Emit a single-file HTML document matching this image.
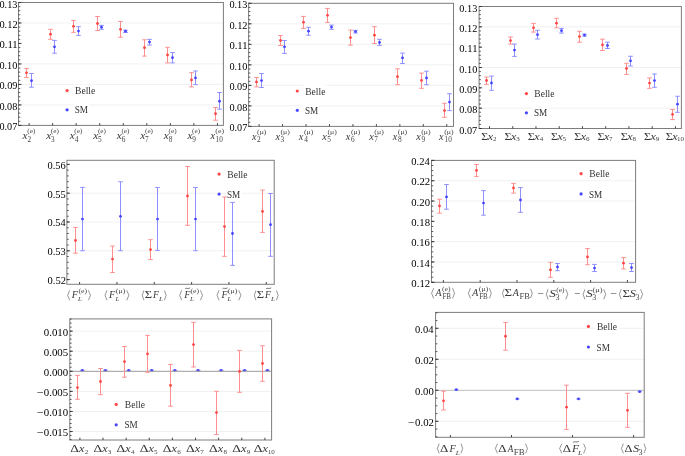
<!DOCTYPE html>
<html><head><meta charset="utf-8"><style>
html,body{margin:0;padding:0;background:#fff;}
body{width:685px;height:456px;overflow:hidden;font-family:"Liberation Serif", serif;}
svg{display:block;will-change:transform;}
</style></head><body>
<svg width="685" height="456" viewBox="0 0 685 456" font-family="'Liberation Serif', serif">
<rect width="685" height="456" fill="#fff"/>
<line x1="18.5" y1="104.92" x2="223.4" y2="104.92" stroke="#f1f1f1" stroke-width="1"/>
<line x1="18.5" y1="84.43" x2="223.4" y2="84.43" stroke="#f1f1f1" stroke-width="1"/>
<line x1="18.5" y1="63.95" x2="223.4" y2="63.95" stroke="#f1f1f1" stroke-width="1"/>
<line x1="18.5" y1="22.98" x2="223.4" y2="22.98" stroke="#f1f1f1" stroke-width="1"/>
<rect x="73.3" y="84.6" width="23" height="10" fill="#fff"/>
<rect x="73.3" y="103.8" width="16" height="10" fill="#fff"/>
<circle cx="67.1" cy="90.6" r="1.6" fill="#ff4545"/>
<circle cx="67.1" cy="109.8" r="1.6" fill="#4545ff"/>
<text x="75.02" y="94.2" font-size="9.5" textLength="20.21" lengthAdjust="spacingAndGlyphs" fill="#333">Belle</text>
<text x="74.69" y="113.4" font-size="9.5" textLength="13.28" lengthAdjust="spacingAndGlyphs" fill="#333">SM</text>
<line x1="26.5" y1="68.4" x2="26.5" y2="77.5" stroke="#ff8f8f" stroke-width="1.0"/>
<line x1="24.2" y1="68.4" x2="28.8" y2="68.4" stroke="#ff8f8f" stroke-width="1.0"/>
<line x1="24.2" y1="77.5" x2="28.8" y2="77.5" stroke="#ff8f8f" stroke-width="1.0"/>
<circle cx="26.5" cy="72.8" r="1.4" fill="#ff4545"/>
<line x1="31.5" y1="73.5" x2="31.5" y2="87.2" stroke="#8f8fff" stroke-width="1.0"/>
<line x1="29.2" y1="73.5" x2="33.8" y2="73.5" stroke="#8f8fff" stroke-width="1.0"/>
<line x1="29.2" y1="87.2" x2="33.8" y2="87.2" stroke="#8f8fff" stroke-width="1.0"/>
<circle cx="31.5" cy="80.7" r="1.4" fill="#4545ff"/>
<line x1="50.5" y1="29.3" x2="50.5" y2="39.3" stroke="#ff8f8f" stroke-width="1.0"/>
<line x1="48.2" y1="29.3" x2="52.8" y2="29.3" stroke="#ff8f8f" stroke-width="1.0"/>
<line x1="48.2" y1="39.3" x2="52.8" y2="39.3" stroke="#ff8f8f" stroke-width="1.0"/>
<circle cx="50.5" cy="34.2" r="1.4" fill="#ff4545"/>
<line x1="54.5" y1="40.4" x2="54.5" y2="53.2" stroke="#8f8fff" stroke-width="1.0"/>
<line x1="52.2" y1="40.4" x2="56.8" y2="40.4" stroke="#8f8fff" stroke-width="1.0"/>
<line x1="52.2" y1="53.2" x2="56.8" y2="53.2" stroke="#8f8fff" stroke-width="1.0"/>
<circle cx="54.5" cy="46.8" r="1.4" fill="#4545ff"/>
<line x1="73.5" y1="20.5" x2="73.5" y2="32.3" stroke="#ff8f8f" stroke-width="1.0"/>
<line x1="71.2" y1="20.5" x2="75.8" y2="20.5" stroke="#ff8f8f" stroke-width="1.0"/>
<line x1="71.2" y1="32.3" x2="75.8" y2="32.3" stroke="#ff8f8f" stroke-width="1.0"/>
<circle cx="73.5" cy="26.3" r="1.4" fill="#ff4545"/>
<line x1="78.5" y1="26.7" x2="78.5" y2="35.4" stroke="#8f8fff" stroke-width="1.0"/>
<line x1="76.2" y1="26.7" x2="80.8" y2="26.7" stroke="#8f8fff" stroke-width="1.0"/>
<line x1="76.2" y1="35.4" x2="80.8" y2="35.4" stroke="#8f8fff" stroke-width="1.0"/>
<circle cx="78.5" cy="31.1" r="1.4" fill="#4545ff"/>
<line x1="97.5" y1="16.5" x2="97.5" y2="30.5" stroke="#ff8f8f" stroke-width="1.0"/>
<line x1="95.2" y1="16.5" x2="99.8" y2="16.5" stroke="#ff8f8f" stroke-width="1.0"/>
<line x1="95.2" y1="30.5" x2="99.8" y2="30.5" stroke="#ff8f8f" stroke-width="1.0"/>
<circle cx="97.5" cy="23.5" r="1.4" fill="#ff4545"/>
<line x1="101.5" y1="25.4" x2="101.5" y2="29.3" stroke="#8f8fff" stroke-width="1.0"/>
<line x1="99.2" y1="25.4" x2="103.8" y2="25.4" stroke="#8f8fff" stroke-width="1.0"/>
<line x1="99.2" y1="29.3" x2="103.8" y2="29.3" stroke="#8f8fff" stroke-width="1.0"/>
<circle cx="101.5" cy="27.2" r="1.4" fill="#4545ff"/>
<line x1="120.5" y1="21.4" x2="120.5" y2="37.2" stroke="#ff8f8f" stroke-width="1.0"/>
<line x1="118.2" y1="21.4" x2="122.8" y2="21.4" stroke="#ff8f8f" stroke-width="1.0"/>
<line x1="118.2" y1="37.2" x2="122.8" y2="37.2" stroke="#ff8f8f" stroke-width="1.0"/>
<circle cx="120.5" cy="29.3" r="1.4" fill="#ff4545"/>
<line x1="125.5" y1="30.2" x2="125.5" y2="32.5" stroke="#8f8fff" stroke-width="1.0"/>
<line x1="123.2" y1="30.2" x2="127.8" y2="30.2" stroke="#8f8fff" stroke-width="1.0"/>
<line x1="123.2" y1="32.5" x2="127.8" y2="32.5" stroke="#8f8fff" stroke-width="1.0"/>
<circle cx="125.5" cy="31.2" r="1.4" fill="#4545ff"/>
<line x1="144.5" y1="39.8" x2="144.5" y2="56.1" stroke="#ff8f8f" stroke-width="1.0"/>
<line x1="142.2" y1="39.8" x2="146.8" y2="39.8" stroke="#ff8f8f" stroke-width="1.0"/>
<line x1="142.2" y1="56.1" x2="146.8" y2="56.1" stroke="#ff8f8f" stroke-width="1.0"/>
<circle cx="144.5" cy="47.7" r="1.4" fill="#ff4545"/>
<line x1="149.5" y1="39.4" x2="149.5" y2="45" stroke="#8f8fff" stroke-width="1.0"/>
<line x1="147.2" y1="39.4" x2="151.8" y2="39.4" stroke="#8f8fff" stroke-width="1.0"/>
<line x1="147.2" y1="45" x2="151.8" y2="45" stroke="#8f8fff" stroke-width="1.0"/>
<circle cx="149.5" cy="42.1" r="1.4" fill="#4545ff"/>
<line x1="167.5" y1="47.3" x2="167.5" y2="62.9" stroke="#ff8f8f" stroke-width="1.0"/>
<line x1="165.2" y1="47.3" x2="169.8" y2="47.3" stroke="#ff8f8f" stroke-width="1.0"/>
<line x1="165.2" y1="62.9" x2="169.8" y2="62.9" stroke="#ff8f8f" stroke-width="1.0"/>
<circle cx="167.5" cy="55" r="1.4" fill="#ff4545"/>
<line x1="172.5" y1="52.5" x2="172.5" y2="62.9" stroke="#8f8fff" stroke-width="1.0"/>
<line x1="170.2" y1="52.5" x2="174.8" y2="52.5" stroke="#8f8fff" stroke-width="1.0"/>
<line x1="170.2" y1="62.9" x2="174.8" y2="62.9" stroke="#8f8fff" stroke-width="1.0"/>
<circle cx="172.5" cy="57.7" r="1.4" fill="#4545ff"/>
<line x1="191.5" y1="72.7" x2="191.5" y2="86.9" stroke="#ff8f8f" stroke-width="1.0"/>
<line x1="189.2" y1="72.7" x2="193.8" y2="72.7" stroke="#ff8f8f" stroke-width="1.0"/>
<line x1="189.2" y1="86.9" x2="193.8" y2="86.9" stroke="#ff8f8f" stroke-width="1.0"/>
<circle cx="191.5" cy="80" r="1.4" fill="#ff4545"/>
<line x1="195.5" y1="71" x2="195.5" y2="84.6" stroke="#8f8fff" stroke-width="1.0"/>
<line x1="193.2" y1="71" x2="197.8" y2="71" stroke="#8f8fff" stroke-width="1.0"/>
<line x1="193.2" y1="84.6" x2="197.8" y2="84.6" stroke="#8f8fff" stroke-width="1.0"/>
<circle cx="195.5" cy="77.9" r="1.4" fill="#4545ff"/>
<line x1="215.5" y1="107.5" x2="215.5" y2="120.2" stroke="#ff8f8f" stroke-width="1.0"/>
<line x1="213.2" y1="107.5" x2="217.8" y2="107.5" stroke="#ff8f8f" stroke-width="1.0"/>
<line x1="213.2" y1="120.2" x2="217.8" y2="120.2" stroke="#ff8f8f" stroke-width="1.0"/>
<circle cx="215.5" cy="113.75" r="1.4" fill="#ff4545"/>
<line x1="219.5" y1="92.5" x2="219.5" y2="109.2" stroke="#8f8fff" stroke-width="1.0"/>
<line x1="217.2" y1="92.5" x2="221.8" y2="92.5" stroke="#8f8fff" stroke-width="1.0"/>
<line x1="217.2" y1="109.2" x2="221.8" y2="109.2" stroke="#8f8fff" stroke-width="1.0"/>
<circle cx="219.5" cy="101.25" r="1.4" fill="#4545ff"/>
<rect x="18.5" y="2.5" width="204.9" height="122.9" fill="none" stroke="#7d7d7d" stroke-width="1"/>
<line x1="18.5" y1="125.4" x2="20.3" y2="125.4" stroke="#333" stroke-width="0.8"/>
<line x1="18.5" y1="121.3" x2="20.3" y2="121.3" stroke="#333" stroke-width="0.8"/>
<line x1="18.5" y1="117.21" x2="20.3" y2="117.21" stroke="#333" stroke-width="0.8"/>
<line x1="18.5" y1="113.11" x2="20.3" y2="113.11" stroke="#333" stroke-width="0.8"/>
<line x1="18.5" y1="109.01" x2="20.3" y2="109.01" stroke="#333" stroke-width="0.8"/>
<line x1="18.5" y1="104.92" x2="20.3" y2="104.92" stroke="#333" stroke-width="0.8"/>
<line x1="18.5" y1="100.82" x2="20.3" y2="100.82" stroke="#333" stroke-width="0.8"/>
<line x1="18.5" y1="96.72" x2="20.3" y2="96.72" stroke="#333" stroke-width="0.8"/>
<line x1="18.5" y1="92.63" x2="20.3" y2="92.63" stroke="#333" stroke-width="0.8"/>
<line x1="18.5" y1="88.53" x2="20.3" y2="88.53" stroke="#333" stroke-width="0.8"/>
<line x1="18.5" y1="84.43" x2="20.3" y2="84.43" stroke="#333" stroke-width="0.8"/>
<line x1="18.5" y1="80.34" x2="20.3" y2="80.34" stroke="#333" stroke-width="0.8"/>
<line x1="18.5" y1="76.24" x2="20.3" y2="76.24" stroke="#333" stroke-width="0.8"/>
<line x1="18.5" y1="72.14" x2="20.3" y2="72.14" stroke="#333" stroke-width="0.8"/>
<line x1="18.5" y1="68.05" x2="20.3" y2="68.05" stroke="#333" stroke-width="0.8"/>
<line x1="18.5" y1="63.95" x2="20.3" y2="63.95" stroke="#333" stroke-width="0.8"/>
<line x1="18.5" y1="59.85" x2="20.3" y2="59.85" stroke="#333" stroke-width="0.8"/>
<line x1="18.5" y1="55.76" x2="20.3" y2="55.76" stroke="#333" stroke-width="0.8"/>
<line x1="18.5" y1="51.66" x2="20.3" y2="51.66" stroke="#333" stroke-width="0.8"/>
<line x1="18.5" y1="47.56" x2="20.3" y2="47.56" stroke="#333" stroke-width="0.8"/>
<line x1="18.5" y1="43.47" x2="20.3" y2="43.47" stroke="#333" stroke-width="0.8"/>
<line x1="18.5" y1="39.37" x2="20.3" y2="39.37" stroke="#333" stroke-width="0.8"/>
<line x1="18.5" y1="35.27" x2="20.3" y2="35.27" stroke="#333" stroke-width="0.8"/>
<line x1="18.5" y1="31.18" x2="20.3" y2="31.18" stroke="#333" stroke-width="0.8"/>
<line x1="18.5" y1="27.08" x2="20.3" y2="27.08" stroke="#333" stroke-width="0.8"/>
<line x1="18.5" y1="22.98" x2="20.3" y2="22.98" stroke="#333" stroke-width="0.8"/>
<line x1="18.5" y1="18.89" x2="20.3" y2="18.89" stroke="#333" stroke-width="0.8"/>
<line x1="18.5" y1="14.79" x2="20.3" y2="14.79" stroke="#333" stroke-width="0.8"/>
<line x1="18.5" y1="10.69" x2="20.3" y2="10.69" stroke="#333" stroke-width="0.8"/>
<line x1="18.5" y1="6.6" x2="20.3" y2="6.6" stroke="#333" stroke-width="0.8"/>
<line x1="18.5" y1="2.5" x2="20.3" y2="2.5" stroke="#333" stroke-width="0.8"/>
<line x1="18.5" y1="125.4" x2="21.5" y2="125.4" stroke="#333" stroke-width="0.9"/>
<text x="-0.59" y="130" font-size="10.3" textLength="17.88" lengthAdjust="spacingAndGlyphs" fill="#000000">0.07</text>
<line x1="18.5" y1="104.92" x2="21.5" y2="104.92" stroke="#333" stroke-width="0.9"/>
<text x="-0.59" y="110" font-size="10.3" textLength="17.98" lengthAdjust="spacingAndGlyphs" fill="#000000">0.08</text>
<line x1="18.5" y1="84.43" x2="21.5" y2="84.43" stroke="#333" stroke-width="0.9"/>
<text x="-0.59" y="89" font-size="10.3" textLength="18.01" lengthAdjust="spacingAndGlyphs" fill="#000000">0.09</text>
<line x1="18.5" y1="63.95" x2="21.5" y2="63.95" stroke="#333" stroke-width="0.9"/>
<text x="-0.59" y="69" font-size="10.3" textLength="17.98" lengthAdjust="spacingAndGlyphs" fill="#000000">0.10</text>
<line x1="18.5" y1="43.47" x2="21.5" y2="43.47" stroke="#333" stroke-width="0.9"/>
<text x="-0.6" y="48" font-size="10.3" textLength="18.22" lengthAdjust="spacingAndGlyphs" fill="#000000">0.11</text>
<line x1="18.5" y1="22.98" x2="21.5" y2="22.98" stroke="#333" stroke-width="0.9"/>
<text x="-0.6" y="28" font-size="10.3" textLength="18.17" lengthAdjust="spacingAndGlyphs" fill="#000000">0.12</text>
<line x1="18.5" y1="2.5" x2="21.5" y2="2.5" stroke="#333" stroke-width="0.9"/>
<text x="-0.59" y="8" font-size="10.3" textLength="17.99" lengthAdjust="spacingAndGlyphs" fill="#000000">0.13</text>
<line x1="29.1" y1="125.4" x2="29.1" y2="123.1" stroke="#333" stroke-width="0.9"/>
<line x1="52.64" y1="125.4" x2="52.64" y2="123.1" stroke="#333" stroke-width="0.9"/>
<line x1="76.18" y1="125.4" x2="76.18" y2="123.1" stroke="#333" stroke-width="0.9"/>
<line x1="99.72" y1="125.4" x2="99.72" y2="123.1" stroke="#333" stroke-width="0.9"/>
<line x1="123.26" y1="125.4" x2="123.26" y2="123.1" stroke="#333" stroke-width="0.9"/>
<line x1="146.8" y1="125.4" x2="146.8" y2="123.1" stroke="#333" stroke-width="0.9"/>
<line x1="170.34" y1="125.4" x2="170.34" y2="123.1" stroke="#333" stroke-width="0.9"/>
<line x1="193.88" y1="125.4" x2="193.88" y2="123.1" stroke="#333" stroke-width="0.9"/>
<line x1="217.42" y1="125.4" x2="217.42" y2="123.1" stroke="#333" stroke-width="0.9"/>
<text x="22.64" y="138.7" font-size="11" font-style="italic" textLength="5.04" lengthAdjust="spacingAndGlyphs" fill="#383838">x</text>
<text x="27.28" y="133.3" font-size="7" textLength="8.04" lengthAdjust="spacingAndGlyphs" fill="#444444">(e)</text>
<text x="27.48" y="142" font-size="7.3" fill="#444444">2</text>
<text x="46.18" y="138.7" font-size="11" font-style="italic" textLength="5.04" lengthAdjust="spacingAndGlyphs" fill="#383838">x</text>
<text x="50.82" y="133.3" font-size="7" textLength="8.04" lengthAdjust="spacingAndGlyphs" fill="#444444">(e)</text>
<text x="50.99" y="142" font-size="7.3" fill="#444444">3</text>
<text x="69.72" y="138.7" font-size="11" font-style="italic" textLength="5.04" lengthAdjust="spacingAndGlyphs" fill="#383838">x</text>
<text x="74.36" y="133.3" font-size="7" textLength="8.04" lengthAdjust="spacingAndGlyphs" fill="#444444">(e)</text>
<text x="74.74" y="142" font-size="7.3" fill="#444444">4</text>
<text x="93.26" y="138.7" font-size="11" font-style="italic" textLength="5.04" lengthAdjust="spacingAndGlyphs" fill="#383838">x</text>
<text x="97.9" y="133.3" font-size="7" textLength="8.04" lengthAdjust="spacingAndGlyphs" fill="#444444">(e)</text>
<text x="98" y="142" font-size="7.3" fill="#444444">5</text>
<text x="116.8" y="138.7" font-size="11" font-style="italic" textLength="5.04" lengthAdjust="spacingAndGlyphs" fill="#383838">x</text>
<text x="121.44" y="133.3" font-size="7" textLength="8.04" lengthAdjust="spacingAndGlyphs" fill="#444444">(e)</text>
<text x="121.65" y="142" font-size="7.3" fill="#444444">6</text>
<text x="140.34" y="138.7" font-size="11" font-style="italic" textLength="5.04" lengthAdjust="spacingAndGlyphs" fill="#383838">x</text>
<text x="144.98" y="133.3" font-size="7" textLength="8.04" lengthAdjust="spacingAndGlyphs" fill="#444444">(e)</text>
<text x="145.02" y="142" font-size="7.3" fill="#444444">7</text>
<text x="163.88" y="138.7" font-size="11" font-style="italic" textLength="5.04" lengthAdjust="spacingAndGlyphs" fill="#383838">x</text>
<text x="168.52" y="133.3" font-size="7" textLength="8.04" lengthAdjust="spacingAndGlyphs" fill="#444444">(e)</text>
<text x="168.76" y="142" font-size="7.3" fill="#444444">8</text>
<text x="187.42" y="138.7" font-size="11" font-style="italic" textLength="5.04" lengthAdjust="spacingAndGlyphs" fill="#383838">x</text>
<text x="192.06" y="133.3" font-size="7" textLength="8.04" lengthAdjust="spacingAndGlyphs" fill="#444444">(e)</text>
<text x="192.34" y="142" font-size="7.3" fill="#444444">9</text>
<text x="210.45" y="138.7" font-size="11" font-style="italic" textLength="4.55" lengthAdjust="spacingAndGlyphs" fill="#383838">x</text>
<text x="215.27" y="133.3" font-size="7" textLength="8.91" lengthAdjust="spacingAndGlyphs" fill="#444444">(e)</text>
<text x="215.59" y="142" font-size="7.3" textLength="7.21" lengthAdjust="spacingAndGlyphs" fill="#444444">10</text>
<line x1="248.6" y1="105.88" x2="453.5" y2="105.88" stroke="#f1f1f1" stroke-width="1"/>
<line x1="248.6" y1="85.37" x2="453.5" y2="85.37" stroke="#f1f1f1" stroke-width="1"/>
<line x1="248.6" y1="64.85" x2="453.5" y2="64.85" stroke="#f1f1f1" stroke-width="1"/>
<line x1="248.6" y1="44.33" x2="453.5" y2="44.33" stroke="#f1f1f1" stroke-width="1"/>
<line x1="248.6" y1="23.82" x2="453.5" y2="23.82" stroke="#f1f1f1" stroke-width="1"/>
<rect x="303.5" y="85" width="23" height="10" fill="#fff"/>
<rect x="303.5" y="104.3" width="16" height="10" fill="#fff"/>
<circle cx="297.3" cy="91" r="1.6" fill="#ff4545"/>
<circle cx="297.3" cy="110.3" r="1.6" fill="#4545ff"/>
<text x="305.22" y="94.6" font-size="9.5" textLength="20.21" lengthAdjust="spacingAndGlyphs" fill="#333">Belle</text>
<text x="304.89" y="113.9" font-size="9.5" textLength="13.28" lengthAdjust="spacingAndGlyphs" fill="#333">SM</text>
<line x1="256.5" y1="77.6" x2="256.5" y2="86.9" stroke="#ff8f8f" stroke-width="1.0"/>
<line x1="254.2" y1="77.6" x2="258.8" y2="77.6" stroke="#ff8f8f" stroke-width="1.0"/>
<line x1="254.2" y1="86.9" x2="258.8" y2="86.9" stroke="#ff8f8f" stroke-width="1.0"/>
<circle cx="256.5" cy="82" r="1.4" fill="#ff4545"/>
<line x1="261.5" y1="73.5" x2="261.5" y2="87.5" stroke="#8f8fff" stroke-width="1.0"/>
<line x1="259.2" y1="73.5" x2="263.8" y2="73.5" stroke="#8f8fff" stroke-width="1.0"/>
<line x1="259.2" y1="87.5" x2="263.8" y2="87.5" stroke="#8f8fff" stroke-width="1.0"/>
<circle cx="261.5" cy="80.6" r="1.4" fill="#4545ff"/>
<line x1="280.5" y1="35.6" x2="280.5" y2="45.5" stroke="#ff8f8f" stroke-width="1.0"/>
<line x1="278.2" y1="35.6" x2="282.8" y2="35.6" stroke="#ff8f8f" stroke-width="1.0"/>
<line x1="278.2" y1="45.5" x2="282.8" y2="45.5" stroke="#ff8f8f" stroke-width="1.0"/>
<circle cx="280.5" cy="40.5" r="1.4" fill="#ff4545"/>
<line x1="284.5" y1="40.5" x2="284.5" y2="53.4" stroke="#8f8fff" stroke-width="1.0"/>
<line x1="282.2" y1="40.5" x2="286.8" y2="40.5" stroke="#8f8fff" stroke-width="1.0"/>
<line x1="282.2" y1="53.4" x2="286.8" y2="53.4" stroke="#8f8fff" stroke-width="1.0"/>
<circle cx="284.5" cy="46.8" r="1.4" fill="#4545ff"/>
<line x1="303.5" y1="16.4" x2="303.5" y2="28.3" stroke="#ff8f8f" stroke-width="1.0"/>
<line x1="301.2" y1="16.4" x2="305.8" y2="16.4" stroke="#ff8f8f" stroke-width="1.0"/>
<line x1="301.2" y1="28.3" x2="305.8" y2="28.3" stroke="#ff8f8f" stroke-width="1.0"/>
<circle cx="303.5" cy="22.2" r="1.4" fill="#ff4545"/>
<line x1="308.5" y1="27.3" x2="308.5" y2="35.2" stroke="#8f8fff" stroke-width="1.0"/>
<line x1="306.2" y1="27.3" x2="310.8" y2="27.3" stroke="#8f8fff" stroke-width="1.0"/>
<line x1="306.2" y1="35.2" x2="310.8" y2="35.2" stroke="#8f8fff" stroke-width="1.0"/>
<circle cx="308.5" cy="31.2" r="1.4" fill="#4545ff"/>
<line x1="327.5" y1="8.4" x2="327.5" y2="22.4" stroke="#ff8f8f" stroke-width="1.0"/>
<line x1="325.2" y1="8.4" x2="329.8" y2="8.4" stroke="#ff8f8f" stroke-width="1.0"/>
<line x1="325.2" y1="22.4" x2="329.8" y2="22.4" stroke="#ff8f8f" stroke-width="1.0"/>
<circle cx="327.5" cy="15.3" r="1.4" fill="#ff4545"/>
<line x1="331.5" y1="25.1" x2="331.5" y2="29.3" stroke="#8f8fff" stroke-width="1.0"/>
<line x1="329.2" y1="25.1" x2="333.8" y2="25.1" stroke="#8f8fff" stroke-width="1.0"/>
<line x1="329.2" y1="29.3" x2="333.8" y2="29.3" stroke="#8f8fff" stroke-width="1.0"/>
<circle cx="331.5" cy="27.1" r="1.4" fill="#4545ff"/>
<line x1="350.5" y1="30.1" x2="350.5" y2="45.1" stroke="#ff8f8f" stroke-width="1.0"/>
<line x1="348.2" y1="30.1" x2="352.8" y2="30.1" stroke="#ff8f8f" stroke-width="1.0"/>
<line x1="348.2" y1="45.1" x2="352.8" y2="45.1" stroke="#ff8f8f" stroke-width="1.0"/>
<circle cx="350.5" cy="37.6" r="1.4" fill="#ff4545"/>
<line x1="355.5" y1="30.3" x2="355.5" y2="33" stroke="#8f8fff" stroke-width="1.0"/>
<line x1="353.2" y1="30.3" x2="357.8" y2="30.3" stroke="#8f8fff" stroke-width="1.0"/>
<line x1="353.2" y1="33" x2="357.8" y2="33" stroke="#8f8fff" stroke-width="1.0"/>
<circle cx="355.5" cy="31.6" r="1.4" fill="#4545ff"/>
<line x1="374.5" y1="26.7" x2="374.5" y2="43.5" stroke="#ff8f8f" stroke-width="1.0"/>
<line x1="372.2" y1="26.7" x2="376.8" y2="26.7" stroke="#ff8f8f" stroke-width="1.0"/>
<line x1="372.2" y1="43.5" x2="376.8" y2="43.5" stroke="#ff8f8f" stroke-width="1.0"/>
<circle cx="374.5" cy="35.2" r="1.4" fill="#ff4545"/>
<line x1="379.5" y1="39.3" x2="379.5" y2="45.4" stroke="#8f8fff" stroke-width="1.0"/>
<line x1="377.2" y1="39.3" x2="381.8" y2="39.3" stroke="#8f8fff" stroke-width="1.0"/>
<line x1="377.2" y1="45.4" x2="381.8" y2="45.4" stroke="#8f8fff" stroke-width="1.0"/>
<circle cx="379.5" cy="42.5" r="1.4" fill="#4545ff"/>
<line x1="397.5" y1="68.8" x2="397.5" y2="84.7" stroke="#ff8f8f" stroke-width="1.0"/>
<line x1="395.2" y1="68.8" x2="399.8" y2="68.8" stroke="#ff8f8f" stroke-width="1.0"/>
<line x1="395.2" y1="84.7" x2="399.8" y2="84.7" stroke="#ff8f8f" stroke-width="1.0"/>
<circle cx="397.5" cy="76.7" r="1.4" fill="#ff4545"/>
<line x1="402.5" y1="53.1" x2="402.5" y2="63.5" stroke="#8f8fff" stroke-width="1.0"/>
<line x1="400.2" y1="53.1" x2="404.8" y2="53.1" stroke="#8f8fff" stroke-width="1.0"/>
<line x1="400.2" y1="63.5" x2="404.8" y2="63.5" stroke="#8f8fff" stroke-width="1.0"/>
<circle cx="402.5" cy="57.9" r="1.4" fill="#4545ff"/>
<line x1="421.5" y1="73.1" x2="421.5" y2="88.3" stroke="#ff8f8f" stroke-width="1.0"/>
<line x1="419.2" y1="73.1" x2="423.8" y2="73.1" stroke="#ff8f8f" stroke-width="1.0"/>
<line x1="419.2" y1="88.3" x2="423.8" y2="88.3" stroke="#ff8f8f" stroke-width="1.0"/>
<circle cx="421.5" cy="80.4" r="1.4" fill="#ff4545"/>
<line x1="426.5" y1="71.2" x2="426.5" y2="84.7" stroke="#8f8fff" stroke-width="1.0"/>
<line x1="424.2" y1="71.2" x2="428.8" y2="71.2" stroke="#8f8fff" stroke-width="1.0"/>
<line x1="424.2" y1="84.7" x2="428.8" y2="84.7" stroke="#8f8fff" stroke-width="1.0"/>
<circle cx="426.5" cy="78" r="1.4" fill="#4545ff"/>
<line x1="444.5" y1="103.3" x2="444.5" y2="117.3" stroke="#ff8f8f" stroke-width="1.0"/>
<line x1="442.2" y1="103.3" x2="446.8" y2="103.3" stroke="#ff8f8f" stroke-width="1.0"/>
<line x1="442.2" y1="117.3" x2="446.8" y2="117.3" stroke="#ff8f8f" stroke-width="1.0"/>
<circle cx="444.5" cy="110.6" r="1.4" fill="#ff4545"/>
<line x1="449.5" y1="93.7" x2="449.5" y2="110.6" stroke="#8f8fff" stroke-width="1.0"/>
<line x1="447.2" y1="93.7" x2="451.8" y2="93.7" stroke="#8f8fff" stroke-width="1.0"/>
<line x1="447.2" y1="110.6" x2="451.8" y2="110.6" stroke="#8f8fff" stroke-width="1.0"/>
<circle cx="449.5" cy="102.1" r="1.4" fill="#4545ff"/>
<rect x="248.6" y="3.3" width="204.9" height="123.1" fill="none" stroke="#7d7d7d" stroke-width="1"/>
<line x1="248.6" y1="126.4" x2="250.4" y2="126.4" stroke="#333" stroke-width="0.8"/>
<line x1="248.6" y1="122.3" x2="250.4" y2="122.3" stroke="#333" stroke-width="0.8"/>
<line x1="248.6" y1="118.19" x2="250.4" y2="118.19" stroke="#333" stroke-width="0.8"/>
<line x1="248.6" y1="114.09" x2="250.4" y2="114.09" stroke="#333" stroke-width="0.8"/>
<line x1="248.6" y1="109.99" x2="250.4" y2="109.99" stroke="#333" stroke-width="0.8"/>
<line x1="248.6" y1="105.88" x2="250.4" y2="105.88" stroke="#333" stroke-width="0.8"/>
<line x1="248.6" y1="101.78" x2="250.4" y2="101.78" stroke="#333" stroke-width="0.8"/>
<line x1="248.6" y1="97.68" x2="250.4" y2="97.68" stroke="#333" stroke-width="0.8"/>
<line x1="248.6" y1="93.57" x2="250.4" y2="93.57" stroke="#333" stroke-width="0.8"/>
<line x1="248.6" y1="89.47" x2="250.4" y2="89.47" stroke="#333" stroke-width="0.8"/>
<line x1="248.6" y1="85.37" x2="250.4" y2="85.37" stroke="#333" stroke-width="0.8"/>
<line x1="248.6" y1="81.26" x2="250.4" y2="81.26" stroke="#333" stroke-width="0.8"/>
<line x1="248.6" y1="77.16" x2="250.4" y2="77.16" stroke="#333" stroke-width="0.8"/>
<line x1="248.6" y1="73.06" x2="250.4" y2="73.06" stroke="#333" stroke-width="0.8"/>
<line x1="248.6" y1="68.95" x2="250.4" y2="68.95" stroke="#333" stroke-width="0.8"/>
<line x1="248.6" y1="64.85" x2="250.4" y2="64.85" stroke="#333" stroke-width="0.8"/>
<line x1="248.6" y1="60.75" x2="250.4" y2="60.75" stroke="#333" stroke-width="0.8"/>
<line x1="248.6" y1="56.64" x2="250.4" y2="56.64" stroke="#333" stroke-width="0.8"/>
<line x1="248.6" y1="52.54" x2="250.4" y2="52.54" stroke="#333" stroke-width="0.8"/>
<line x1="248.6" y1="48.44" x2="250.4" y2="48.44" stroke="#333" stroke-width="0.8"/>
<line x1="248.6" y1="44.33" x2="250.4" y2="44.33" stroke="#333" stroke-width="0.8"/>
<line x1="248.6" y1="40.23" x2="250.4" y2="40.23" stroke="#333" stroke-width="0.8"/>
<line x1="248.6" y1="36.13" x2="250.4" y2="36.13" stroke="#333" stroke-width="0.8"/>
<line x1="248.6" y1="32.02" x2="250.4" y2="32.02" stroke="#333" stroke-width="0.8"/>
<line x1="248.6" y1="27.92" x2="250.4" y2="27.92" stroke="#333" stroke-width="0.8"/>
<line x1="248.6" y1="23.82" x2="250.4" y2="23.82" stroke="#333" stroke-width="0.8"/>
<line x1="248.6" y1="19.71" x2="250.4" y2="19.71" stroke="#333" stroke-width="0.8"/>
<line x1="248.6" y1="15.61" x2="250.4" y2="15.61" stroke="#333" stroke-width="0.8"/>
<line x1="248.6" y1="11.51" x2="250.4" y2="11.51" stroke="#333" stroke-width="0.8"/>
<line x1="248.6" y1="7.4" x2="250.4" y2="7.4" stroke="#333" stroke-width="0.8"/>
<line x1="248.6" y1="3.3" x2="250.4" y2="3.3" stroke="#333" stroke-width="0.8"/>
<line x1="248.6" y1="126.4" x2="251.6" y2="126.4" stroke="#333" stroke-width="0.9"/>
<text x="229.41" y="131" font-size="10.3" textLength="17.88" lengthAdjust="spacingAndGlyphs" fill="#000000">0.07</text>
<line x1="248.6" y1="105.88" x2="251.6" y2="105.88" stroke="#333" stroke-width="0.9"/>
<text x="229.41" y="111" font-size="10.3" textLength="17.98" lengthAdjust="spacingAndGlyphs" fill="#000000">0.08</text>
<line x1="248.6" y1="85.37" x2="251.6" y2="85.37" stroke="#333" stroke-width="0.9"/>
<text x="229.41" y="90" font-size="10.3" textLength="18.01" lengthAdjust="spacingAndGlyphs" fill="#000000">0.09</text>
<line x1="248.6" y1="64.85" x2="251.6" y2="64.85" stroke="#333" stroke-width="0.9"/>
<text x="229.41" y="70" font-size="10.3" textLength="17.98" lengthAdjust="spacingAndGlyphs" fill="#000000">0.10</text>
<line x1="248.6" y1="44.33" x2="251.6" y2="44.33" stroke="#333" stroke-width="0.9"/>
<text x="229.4" y="49" font-size="10.3" textLength="18.22" lengthAdjust="spacingAndGlyphs" fill="#000000">0.11</text>
<line x1="248.6" y1="23.82" x2="251.6" y2="23.82" stroke="#333" stroke-width="0.9"/>
<text x="229.4" y="29" font-size="10.3" textLength="18.17" lengthAdjust="spacingAndGlyphs" fill="#000000">0.12</text>
<line x1="248.6" y1="3.3" x2="251.6" y2="3.3" stroke="#333" stroke-width="0.9"/>
<text x="229.41" y="8" font-size="10.3" textLength="17.99" lengthAdjust="spacingAndGlyphs" fill="#000000">0.13</text>
<line x1="259.1" y1="126.4" x2="259.1" y2="124.1" stroke="#333" stroke-width="0.9"/>
<line x1="282.56" y1="126.4" x2="282.56" y2="124.1" stroke="#333" stroke-width="0.9"/>
<line x1="306.02" y1="126.4" x2="306.02" y2="124.1" stroke="#333" stroke-width="0.9"/>
<line x1="329.48" y1="126.4" x2="329.48" y2="124.1" stroke="#333" stroke-width="0.9"/>
<line x1="352.94" y1="126.4" x2="352.94" y2="124.1" stroke="#333" stroke-width="0.9"/>
<line x1="376.4" y1="126.4" x2="376.4" y2="124.1" stroke="#333" stroke-width="0.9"/>
<line x1="399.86" y1="126.4" x2="399.86" y2="124.1" stroke="#333" stroke-width="0.9"/>
<line x1="423.32" y1="126.4" x2="423.32" y2="124.1" stroke="#333" stroke-width="0.9"/>
<line x1="446.78" y1="126.4" x2="446.78" y2="124.1" stroke="#333" stroke-width="0.9"/>
<text x="251.93" y="139.7" font-size="11" font-style="italic" textLength="4.55" lengthAdjust="spacingAndGlyphs" fill="#383838">x</text>
<text x="257.06" y="134.3" font-size="7" textLength="9.39" lengthAdjust="spacingAndGlyphs" fill="#444444">(μ)</text>
<text x="257.08" y="142.3" font-size="7.3" fill="#444444">2</text>
<text x="275.39" y="139.7" font-size="11" font-style="italic" textLength="4.55" lengthAdjust="spacingAndGlyphs" fill="#383838">x</text>
<text x="280.52" y="134.3" font-size="7" textLength="9.39" lengthAdjust="spacingAndGlyphs" fill="#444444">(μ)</text>
<text x="280.51" y="142.3" font-size="7.3" fill="#444444">3</text>
<text x="298.85" y="139.7" font-size="11" font-style="italic" textLength="4.55" lengthAdjust="spacingAndGlyphs" fill="#383838">x</text>
<text x="303.98" y="134.3" font-size="7" textLength="9.39" lengthAdjust="spacingAndGlyphs" fill="#444444">(μ)</text>
<text x="304.18" y="142.3" font-size="7.3" fill="#444444">4</text>
<text x="322.31" y="139.7" font-size="11" font-style="italic" textLength="4.55" lengthAdjust="spacingAndGlyphs" fill="#383838">x</text>
<text x="327.44" y="134.3" font-size="7" textLength="9.39" lengthAdjust="spacingAndGlyphs" fill="#444444">(μ)</text>
<text x="327.36" y="142.3" font-size="7.3" fill="#444444">5</text>
<text x="345.77" y="139.7" font-size="11" font-style="italic" textLength="4.55" lengthAdjust="spacingAndGlyphs" fill="#383838">x</text>
<text x="350.9" y="134.3" font-size="7" textLength="9.39" lengthAdjust="spacingAndGlyphs" fill="#444444">(μ)</text>
<text x="350.93" y="142.3" font-size="7.3" fill="#444444">6</text>
<text x="369.23" y="139.7" font-size="11" font-style="italic" textLength="4.55" lengthAdjust="spacingAndGlyphs" fill="#383838">x</text>
<text x="374.36" y="134.3" font-size="7" textLength="9.39" lengthAdjust="spacingAndGlyphs" fill="#444444">(μ)</text>
<text x="374.22" y="142.3" font-size="7.3" fill="#444444">7</text>
<text x="392.69" y="139.7" font-size="11" font-style="italic" textLength="4.55" lengthAdjust="spacingAndGlyphs" fill="#383838">x</text>
<text x="397.82" y="134.3" font-size="7" textLength="9.39" lengthAdjust="spacingAndGlyphs" fill="#444444">(μ)</text>
<text x="397.88" y="142.3" font-size="7.3" fill="#444444">8</text>
<text x="416.15" y="139.7" font-size="11" font-style="italic" textLength="4.55" lengthAdjust="spacingAndGlyphs" fill="#383838">x</text>
<text x="421.28" y="134.3" font-size="7" textLength="9.39" lengthAdjust="spacingAndGlyphs" fill="#444444">(μ)</text>
<text x="421.38" y="142.3" font-size="7.3" fill="#444444">9</text>
<text x="439.11" y="139.7" font-size="11" font-style="italic" textLength="4.55" lengthAdjust="spacingAndGlyphs" fill="#383838">x</text>
<text x="444.23" y="134.3" font-size="7" textLength="9.49" lengthAdjust="spacingAndGlyphs" fill="#444444">(μ)</text>
<text x="444.55" y="142.3" font-size="7.3" textLength="7.21" lengthAdjust="spacingAndGlyphs" fill="#444444">10</text>
<line x1="479.1" y1="108.17" x2="681.4" y2="108.17" stroke="#f1f1f1" stroke-width="1"/>
<line x1="479.1" y1="67.5" x2="681.4" y2="67.5" stroke="#f1f1f1" stroke-width="1"/>
<line x1="479.1" y1="26.83" x2="681.4" y2="26.83" stroke="#f1f1f1" stroke-width="1"/>
<rect x="532.6" y="87.6" width="23" height="10" fill="#fff"/>
<rect x="532.6" y="106.8" width="16" height="10" fill="#fff"/>
<circle cx="526.4" cy="93.6" r="1.6" fill="#ff4545"/>
<circle cx="526.4" cy="112.8" r="1.6" fill="#4545ff"/>
<text x="534.32" y="97.2" font-size="9.5" textLength="20.21" lengthAdjust="spacingAndGlyphs" fill="#333">Belle</text>
<text x="533.99" y="116.4" font-size="9.5" textLength="13.28" lengthAdjust="spacingAndGlyphs" fill="#333">SM</text>
<line x1="486.5" y1="77.1" x2="486.5" y2="84.4" stroke="#ff8f8f" stroke-width="1.0"/>
<line x1="484.2" y1="77.1" x2="488.8" y2="77.1" stroke="#ff8f8f" stroke-width="1.0"/>
<line x1="484.2" y1="84.4" x2="488.8" y2="84.4" stroke="#ff8f8f" stroke-width="1.0"/>
<circle cx="486.5" cy="80.5" r="1.4" fill="#ff4545"/>
<line x1="491.5" y1="76.1" x2="491.5" y2="90.3" stroke="#8f8fff" stroke-width="1.0"/>
<line x1="489.2" y1="76.1" x2="493.8" y2="76.1" stroke="#8f8fff" stroke-width="1.0"/>
<line x1="489.2" y1="90.3" x2="493.8" y2="90.3" stroke="#8f8fff" stroke-width="1.0"/>
<circle cx="491.5" cy="83" r="1.4" fill="#4545ff"/>
<line x1="510.5" y1="37" x2="510.5" y2="44.1" stroke="#ff8f8f" stroke-width="1.0"/>
<line x1="508.2" y1="37" x2="512.8" y2="37" stroke="#ff8f8f" stroke-width="1.0"/>
<line x1="508.2" y1="44.1" x2="512.8" y2="44.1" stroke="#ff8f8f" stroke-width="1.0"/>
<circle cx="510.5" cy="40.6" r="1.4" fill="#ff4545"/>
<line x1="514.5" y1="44.1" x2="514.5" y2="56.4" stroke="#8f8fff" stroke-width="1.0"/>
<line x1="512.2" y1="44.1" x2="516.8" y2="44.1" stroke="#8f8fff" stroke-width="1.0"/>
<line x1="512.2" y1="56.4" x2="516.8" y2="56.4" stroke="#8f8fff" stroke-width="1.0"/>
<circle cx="514.5" cy="50.1" r="1.4" fill="#4545ff"/>
<line x1="533.5" y1="23.4" x2="533.5" y2="32.1" stroke="#ff8f8f" stroke-width="1.0"/>
<line x1="531.2" y1="23.4" x2="535.8" y2="23.4" stroke="#ff8f8f" stroke-width="1.0"/>
<line x1="531.2" y1="32.1" x2="535.8" y2="32.1" stroke="#ff8f8f" stroke-width="1.0"/>
<circle cx="533.5" cy="27.8" r="1.4" fill="#ff4545"/>
<line x1="537.5" y1="30.3" x2="537.5" y2="39" stroke="#8f8fff" stroke-width="1.0"/>
<line x1="535.2" y1="30.3" x2="539.8" y2="30.3" stroke="#8f8fff" stroke-width="1.0"/>
<line x1="535.2" y1="39" x2="539.8" y2="39" stroke="#8f8fff" stroke-width="1.0"/>
<circle cx="537.5" cy="34.7" r="1.4" fill="#4545ff"/>
<line x1="556.5" y1="18.3" x2="556.5" y2="27.8" stroke="#ff8f8f" stroke-width="1.0"/>
<line x1="554.2" y1="18.3" x2="558.8" y2="18.3" stroke="#ff8f8f" stroke-width="1.0"/>
<line x1="554.2" y1="27.8" x2="558.8" y2="27.8" stroke="#ff8f8f" stroke-width="1.0"/>
<circle cx="556.5" cy="23.2" r="1.4" fill="#ff4545"/>
<line x1="561.5" y1="28.4" x2="561.5" y2="33.1" stroke="#8f8fff" stroke-width="1.0"/>
<line x1="559.2" y1="28.4" x2="563.8" y2="28.4" stroke="#8f8fff" stroke-width="1.0"/>
<line x1="559.2" y1="33.1" x2="563.8" y2="33.1" stroke="#8f8fff" stroke-width="1.0"/>
<circle cx="561.5" cy="30.7" r="1.4" fill="#4545ff"/>
<line x1="579.5" y1="31.3" x2="579.5" y2="42.2" stroke="#ff8f8f" stroke-width="1.0"/>
<line x1="577.2" y1="31.3" x2="581.8" y2="31.3" stroke="#ff8f8f" stroke-width="1.0"/>
<line x1="577.2" y1="42.2" x2="581.8" y2="42.2" stroke="#ff8f8f" stroke-width="1.0"/>
<circle cx="579.5" cy="36.6" r="1.4" fill="#ff4545"/>
<line x1="584.5" y1="34.1" x2="584.5" y2="36.2" stroke="#8f8fff" stroke-width="1.0"/>
<line x1="582.2" y1="34.1" x2="586.8" y2="34.1" stroke="#8f8fff" stroke-width="1.0"/>
<line x1="582.2" y1="36.2" x2="586.8" y2="36.2" stroke="#8f8fff" stroke-width="1.0"/>
<circle cx="584.5" cy="35.1" r="1.4" fill="#4545ff"/>
<line x1="602.5" y1="39.2" x2="602.5" y2="50.5" stroke="#ff8f8f" stroke-width="1.0"/>
<line x1="600.2" y1="39.2" x2="604.8" y2="39.2" stroke="#ff8f8f" stroke-width="1.0"/>
<line x1="600.2" y1="50.5" x2="604.8" y2="50.5" stroke="#ff8f8f" stroke-width="1.0"/>
<circle cx="602.5" cy="44.9" r="1.4" fill="#ff4545"/>
<line x1="607.5" y1="42.2" x2="607.5" y2="48.5" stroke="#8f8fff" stroke-width="1.0"/>
<line x1="605.2" y1="42.2" x2="609.8" y2="42.2" stroke="#8f8fff" stroke-width="1.0"/>
<line x1="605.2" y1="48.5" x2="609.8" y2="48.5" stroke="#8f8fff" stroke-width="1.0"/>
<circle cx="607.5" cy="45.5" r="1.4" fill="#4545ff"/>
<line x1="626.5" y1="63.3" x2="626.5" y2="74.4" stroke="#ff8f8f" stroke-width="1.0"/>
<line x1="624.2" y1="63.3" x2="628.8" y2="63.3" stroke="#ff8f8f" stroke-width="1.0"/>
<line x1="624.2" y1="74.4" x2="628.8" y2="74.4" stroke="#ff8f8f" stroke-width="1.0"/>
<circle cx="626.5" cy="68.5" r="1.4" fill="#ff4545"/>
<line x1="630.5" y1="56.25" x2="630.5" y2="66" stroke="#8f8fff" stroke-width="1.0"/>
<line x1="628.2" y1="56.25" x2="632.8" y2="56.25" stroke="#8f8fff" stroke-width="1.0"/>
<line x1="628.2" y1="66" x2="632.8" y2="66" stroke="#8f8fff" stroke-width="1.0"/>
<circle cx="630.5" cy="60.8" r="1.4" fill="#4545ff"/>
<line x1="649.5" y1="77.9" x2="649.5" y2="88.3" stroke="#ff8f8f" stroke-width="1.0"/>
<line x1="647.2" y1="77.9" x2="651.8" y2="77.9" stroke="#ff8f8f" stroke-width="1.0"/>
<line x1="647.2" y1="88.3" x2="651.8" y2="88.3" stroke="#ff8f8f" stroke-width="1.0"/>
<circle cx="649.5" cy="83.1" r="1.4" fill="#ff4545"/>
<line x1="654.5" y1="74" x2="654.5" y2="87.3" stroke="#8f8fff" stroke-width="1.0"/>
<line x1="652.2" y1="74" x2="656.8" y2="74" stroke="#8f8fff" stroke-width="1.0"/>
<line x1="652.2" y1="87.3" x2="656.8" y2="87.3" stroke="#8f8fff" stroke-width="1.0"/>
<circle cx="654.5" cy="80.6" r="1.4" fill="#4545ff"/>
<line x1="672.5" y1="109.4" x2="672.5" y2="119.6" stroke="#ff8f8f" stroke-width="1.0"/>
<line x1="670.2" y1="109.4" x2="674.8" y2="109.4" stroke="#ff8f8f" stroke-width="1.0"/>
<line x1="670.2" y1="119.6" x2="674.8" y2="119.6" stroke="#ff8f8f" stroke-width="1.0"/>
<circle cx="672.5" cy="114.4" r="1.4" fill="#ff4545"/>
<line x1="677.5" y1="96.25" x2="677.5" y2="112.3" stroke="#8f8fff" stroke-width="1.0"/>
<line x1="675.2" y1="96.25" x2="679.8" y2="96.25" stroke="#8f8fff" stroke-width="1.0"/>
<line x1="675.2" y1="112.3" x2="679.8" y2="112.3" stroke="#8f8fff" stroke-width="1.0"/>
<circle cx="677.5" cy="104.2" r="1.4" fill="#4545ff"/>
<rect x="479.1" y="6.5" width="202.3" height="122" fill="none" stroke="#7d7d7d" stroke-width="1"/>
<line x1="479.1" y1="128.5" x2="480.9" y2="128.5" stroke="#333" stroke-width="0.8"/>
<line x1="479.1" y1="124.43" x2="480.9" y2="124.43" stroke="#333" stroke-width="0.8"/>
<line x1="479.1" y1="120.37" x2="480.9" y2="120.37" stroke="#333" stroke-width="0.8"/>
<line x1="479.1" y1="116.3" x2="480.9" y2="116.3" stroke="#333" stroke-width="0.8"/>
<line x1="479.1" y1="112.23" x2="480.9" y2="112.23" stroke="#333" stroke-width="0.8"/>
<line x1="479.1" y1="108.17" x2="480.9" y2="108.17" stroke="#333" stroke-width="0.8"/>
<line x1="479.1" y1="104.1" x2="480.9" y2="104.1" stroke="#333" stroke-width="0.8"/>
<line x1="479.1" y1="100.03" x2="480.9" y2="100.03" stroke="#333" stroke-width="0.8"/>
<line x1="479.1" y1="95.97" x2="480.9" y2="95.97" stroke="#333" stroke-width="0.8"/>
<line x1="479.1" y1="91.9" x2="480.9" y2="91.9" stroke="#333" stroke-width="0.8"/>
<line x1="479.1" y1="87.83" x2="480.9" y2="87.83" stroke="#333" stroke-width="0.8"/>
<line x1="479.1" y1="83.77" x2="480.9" y2="83.77" stroke="#333" stroke-width="0.8"/>
<line x1="479.1" y1="79.7" x2="480.9" y2="79.7" stroke="#333" stroke-width="0.8"/>
<line x1="479.1" y1="75.63" x2="480.9" y2="75.63" stroke="#333" stroke-width="0.8"/>
<line x1="479.1" y1="71.57" x2="480.9" y2="71.57" stroke="#333" stroke-width="0.8"/>
<line x1="479.1" y1="67.5" x2="480.9" y2="67.5" stroke="#333" stroke-width="0.8"/>
<line x1="479.1" y1="63.43" x2="480.9" y2="63.43" stroke="#333" stroke-width="0.8"/>
<line x1="479.1" y1="59.37" x2="480.9" y2="59.37" stroke="#333" stroke-width="0.8"/>
<line x1="479.1" y1="55.3" x2="480.9" y2="55.3" stroke="#333" stroke-width="0.8"/>
<line x1="479.1" y1="51.23" x2="480.9" y2="51.23" stroke="#333" stroke-width="0.8"/>
<line x1="479.1" y1="47.17" x2="480.9" y2="47.17" stroke="#333" stroke-width="0.8"/>
<line x1="479.1" y1="43.1" x2="480.9" y2="43.1" stroke="#333" stroke-width="0.8"/>
<line x1="479.1" y1="39.03" x2="480.9" y2="39.03" stroke="#333" stroke-width="0.8"/>
<line x1="479.1" y1="34.97" x2="480.9" y2="34.97" stroke="#333" stroke-width="0.8"/>
<line x1="479.1" y1="30.9" x2="480.9" y2="30.9" stroke="#333" stroke-width="0.8"/>
<line x1="479.1" y1="26.83" x2="480.9" y2="26.83" stroke="#333" stroke-width="0.8"/>
<line x1="479.1" y1="22.77" x2="480.9" y2="22.77" stroke="#333" stroke-width="0.8"/>
<line x1="479.1" y1="18.7" x2="480.9" y2="18.7" stroke="#333" stroke-width="0.8"/>
<line x1="479.1" y1="14.63" x2="480.9" y2="14.63" stroke="#333" stroke-width="0.8"/>
<line x1="479.1" y1="10.57" x2="480.9" y2="10.57" stroke="#333" stroke-width="0.8"/>
<line x1="479.1" y1="6.5" x2="480.9" y2="6.5" stroke="#333" stroke-width="0.8"/>
<line x1="479.1" y1="128.5" x2="482.1" y2="128.5" stroke="#333" stroke-width="0.9"/>
<text x="459.31" y="134" font-size="10.3" textLength="17.88" lengthAdjust="spacingAndGlyphs" fill="#000000">0.07</text>
<line x1="479.1" y1="108.17" x2="482.1" y2="108.17" stroke="#333" stroke-width="0.9"/>
<text x="459.31" y="113" font-size="10.3" textLength="17.98" lengthAdjust="spacingAndGlyphs" fill="#000000">0.08</text>
<line x1="479.1" y1="87.83" x2="482.1" y2="87.83" stroke="#333" stroke-width="0.9"/>
<text x="459.31" y="93" font-size="10.3" textLength="18.01" lengthAdjust="spacingAndGlyphs" fill="#000000">0.09</text>
<line x1="479.1" y1="67.5" x2="482.1" y2="67.5" stroke="#333" stroke-width="0.9"/>
<text x="459.31" y="73" font-size="10.3" textLength="17.98" lengthAdjust="spacingAndGlyphs" fill="#000000">0.10</text>
<line x1="479.1" y1="47.17" x2="482.1" y2="47.17" stroke="#333" stroke-width="0.9"/>
<text x="459.3" y="52" font-size="10.3" textLength="18.22" lengthAdjust="spacingAndGlyphs" fill="#000000">0.11</text>
<line x1="479.1" y1="26.83" x2="482.1" y2="26.83" stroke="#333" stroke-width="0.9"/>
<text x="459.3" y="32" font-size="10.3" textLength="18.17" lengthAdjust="spacingAndGlyphs" fill="#000000">0.12</text>
<line x1="479.1" y1="6.5" x2="482.1" y2="6.5" stroke="#333" stroke-width="0.9"/>
<text x="459.31" y="12" font-size="10.3" textLength="17.99" lengthAdjust="spacingAndGlyphs" fill="#000000">0.13</text>
<line x1="489.5" y1="128.5" x2="489.5" y2="126.2" stroke="#333" stroke-width="0.9"/>
<line x1="512.74" y1="128.5" x2="512.74" y2="126.2" stroke="#333" stroke-width="0.9"/>
<line x1="535.98" y1="128.5" x2="535.98" y2="126.2" stroke="#333" stroke-width="0.9"/>
<line x1="559.22" y1="128.5" x2="559.22" y2="126.2" stroke="#333" stroke-width="0.9"/>
<line x1="582.46" y1="128.5" x2="582.46" y2="126.2" stroke="#333" stroke-width="0.9"/>
<line x1="605.7" y1="128.5" x2="605.7" y2="126.2" stroke="#333" stroke-width="0.9"/>
<line x1="628.94" y1="128.5" x2="628.94" y2="126.2" stroke="#333" stroke-width="0.9"/>
<line x1="652.18" y1="128.5" x2="652.18" y2="126.2" stroke="#333" stroke-width="0.9"/>
<line x1="675.42" y1="128.5" x2="675.42" y2="126.2" stroke="#333" stroke-width="0.9"/>
<text x="481.33" y="139.8" font-size="11.3" textLength="6.97" lengthAdjust="spacingAndGlyphs" fill="#383838">Σ</text>
<text x="487.85" y="139.8" font-size="11" font-style="italic" textLength="5.34" lengthAdjust="spacingAndGlyphs" fill="#383838">x</text>
<text x="492.99" y="140.8" font-size="7" fill="#444444">2</text>
<text x="504.57" y="139.8" font-size="11.3" textLength="6.97" lengthAdjust="spacingAndGlyphs" fill="#383838">Σ</text>
<text x="511.09" y="139.8" font-size="11" font-style="italic" textLength="5.34" lengthAdjust="spacingAndGlyphs" fill="#383838">x</text>
<text x="516.21" y="140.8" font-size="7" fill="#444444">3</text>
<text x="527.81" y="139.8" font-size="11.3" textLength="6.97" lengthAdjust="spacingAndGlyphs" fill="#383838">Σ</text>
<text x="534.33" y="139.8" font-size="11" font-style="italic" textLength="5.34" lengthAdjust="spacingAndGlyphs" fill="#383838">x</text>
<text x="539.64" y="140.8" font-size="7" fill="#444444">4</text>
<text x="551.05" y="139.8" font-size="11.3" textLength="6.97" lengthAdjust="spacingAndGlyphs" fill="#383838">Σ</text>
<text x="557.57" y="139.8" font-size="11" font-style="italic" textLength="5.34" lengthAdjust="spacingAndGlyphs" fill="#383838">x</text>
<text x="562.61" y="140.8" font-size="7" fill="#444444">5</text>
<text x="574.29" y="139.8" font-size="11.3" textLength="6.97" lengthAdjust="spacingAndGlyphs" fill="#383838">Σ</text>
<text x="580.81" y="139.8" font-size="11" font-style="italic" textLength="5.34" lengthAdjust="spacingAndGlyphs" fill="#383838">x</text>
<text x="585.96" y="140.8" font-size="7" fill="#444444">6</text>
<text x="597.53" y="139.8" font-size="11.3" textLength="6.97" lengthAdjust="spacingAndGlyphs" fill="#383838">Σ</text>
<text x="604.05" y="139.8" font-size="11" font-style="italic" textLength="5.34" lengthAdjust="spacingAndGlyphs" fill="#383838">x</text>
<text x="609.04" y="140.8" font-size="7" fill="#444444">7</text>
<text x="620.77" y="139.8" font-size="11.3" textLength="6.97" lengthAdjust="spacingAndGlyphs" fill="#383838">Σ</text>
<text x="627.29" y="139.8" font-size="11" font-style="italic" textLength="5.34" lengthAdjust="spacingAndGlyphs" fill="#383838">x</text>
<text x="632.47" y="140.8" font-size="7" fill="#444444">8</text>
<text x="644.01" y="139.8" font-size="11.3" textLength="6.97" lengthAdjust="spacingAndGlyphs" fill="#383838">Σ</text>
<text x="650.53" y="139.8" font-size="11" font-style="italic" textLength="5.34" lengthAdjust="spacingAndGlyphs" fill="#383838">x</text>
<text x="655.75" y="140.8" font-size="7" fill="#444444">9</text>
<text x="665.65" y="139.8" font-size="11.3" textLength="6.97" lengthAdjust="spacingAndGlyphs" fill="#383838">Σ</text>
<text x="672.17" y="139.8" font-size="11" font-style="italic" textLength="5.34" lengthAdjust="spacingAndGlyphs" fill="#383838">x</text>
<text x="677" y="140.8" font-size="7" fill="#444444">10</text>
<line x1="66.9" y1="250.8" x2="274.2" y2="250.8" stroke="#f1f1f1" stroke-width="1"/>
<line x1="66.9" y1="222" x2="274.2" y2="222" stroke="#f1f1f1" stroke-width="1"/>
<line x1="66.9" y1="193.2" x2="274.2" y2="193.2" stroke="#f1f1f1" stroke-width="1"/>
<rect x="225.6" y="168.1" width="23" height="10" fill="#fff"/>
<rect x="225.6" y="188.1" width="16" height="10" fill="#fff"/>
<circle cx="219.1" cy="174.1" r="1.6" fill="#ff4545"/>
<circle cx="219.1" cy="194.1" r="1.6" fill="#4545ff"/>
<text x="227.32" y="177.7" font-size="9.5" textLength="20.21" lengthAdjust="spacingAndGlyphs" fill="#333">Belle</text>
<text x="226.99" y="197.7" font-size="9.5" textLength="13.28" lengthAdjust="spacingAndGlyphs" fill="#333">SM</text>
<line x1="75.5" y1="227.4" x2="75.5" y2="253.2" stroke="#ff8f8f" stroke-width="1.0"/>
<line x1="73.2" y1="227.4" x2="77.8" y2="227.4" stroke="#ff8f8f" stroke-width="1.0"/>
<line x1="73.2" y1="253.2" x2="77.8" y2="253.2" stroke="#ff8f8f" stroke-width="1.0"/>
<circle cx="75.5" cy="240.5" r="1.4" fill="#ff4545"/>
<line x1="82.5" y1="187.4" x2="82.5" y2="250.7" stroke="#8f8fff" stroke-width="1.0"/>
<line x1="80.2" y1="187.4" x2="84.8" y2="187.4" stroke="#8f8fff" stroke-width="1.0"/>
<line x1="80.2" y1="250.7" x2="84.8" y2="250.7" stroke="#8f8fff" stroke-width="1.0"/>
<circle cx="82.5" cy="219.1" r="1.4" fill="#4545ff"/>
<line x1="112.5" y1="246" x2="112.5" y2="272.5" stroke="#ff8f8f" stroke-width="1.0"/>
<line x1="110.2" y1="246" x2="114.8" y2="246" stroke="#ff8f8f" stroke-width="1.0"/>
<line x1="110.2" y1="272.5" x2="114.8" y2="272.5" stroke="#ff8f8f" stroke-width="1.0"/>
<circle cx="112.5" cy="259.1" r="1.4" fill="#ff4545"/>
<line x1="120.5" y1="181.8" x2="120.5" y2="250.7" stroke="#8f8fff" stroke-width="1.0"/>
<line x1="118.2" y1="181.8" x2="122.8" y2="181.8" stroke="#8f8fff" stroke-width="1.0"/>
<line x1="118.2" y1="250.7" x2="122.8" y2="250.7" stroke="#8f8fff" stroke-width="1.0"/>
<circle cx="120.5" cy="216.3" r="1.4" fill="#4545ff"/>
<line x1="150.5" y1="239.7" x2="150.5" y2="259.6" stroke="#ff8f8f" stroke-width="1.0"/>
<line x1="148.2" y1="239.7" x2="152.8" y2="239.7" stroke="#ff8f8f" stroke-width="1.0"/>
<line x1="148.2" y1="259.6" x2="152.8" y2="259.6" stroke="#ff8f8f" stroke-width="1.0"/>
<circle cx="150.5" cy="249.6" r="1.4" fill="#ff4545"/>
<line x1="157.5" y1="187.5" x2="157.5" y2="250.4" stroke="#8f8fff" stroke-width="1.0"/>
<line x1="155.2" y1="187.5" x2="159.8" y2="187.5" stroke="#8f8fff" stroke-width="1.0"/>
<line x1="155.2" y1="250.4" x2="159.8" y2="250.4" stroke="#8f8fff" stroke-width="1.0"/>
<circle cx="157.5" cy="219.1" r="1.4" fill="#4545ff"/>
<line x1="187.5" y1="166.5" x2="187.5" y2="225.3" stroke="#ff8f8f" stroke-width="1.0"/>
<line x1="185.2" y1="166.5" x2="189.8" y2="166.5" stroke="#ff8f8f" stroke-width="1.0"/>
<line x1="185.2" y1="225.3" x2="189.8" y2="225.3" stroke="#ff8f8f" stroke-width="1.0"/>
<circle cx="187.5" cy="196" r="1.4" fill="#ff4545"/>
<line x1="195.5" y1="187.5" x2="195.5" y2="250.7" stroke="#8f8fff" stroke-width="1.0"/>
<line x1="193.2" y1="187.5" x2="197.8" y2="187.5" stroke="#8f8fff" stroke-width="1.0"/>
<line x1="193.2" y1="250.7" x2="197.8" y2="250.7" stroke="#8f8fff" stroke-width="1.0"/>
<circle cx="195.5" cy="219.1" r="1.4" fill="#4545ff"/>
<line x1="224.5" y1="197" x2="224.5" y2="256.3" stroke="#ff8f8f" stroke-width="1.0"/>
<line x1="222.2" y1="197" x2="226.8" y2="197" stroke="#ff8f8f" stroke-width="1.0"/>
<line x1="222.2" y1="256.3" x2="226.8" y2="256.3" stroke="#ff8f8f" stroke-width="1.0"/>
<circle cx="224.5" cy="226.6" r="1.4" fill="#ff4545"/>
<line x1="232.5" y1="202.4" x2="232.5" y2="265.4" stroke="#8f8fff" stroke-width="1.0"/>
<line x1="230.2" y1="202.4" x2="234.8" y2="202.4" stroke="#8f8fff" stroke-width="1.0"/>
<line x1="230.2" y1="265.4" x2="234.8" y2="265.4" stroke="#8f8fff" stroke-width="1.0"/>
<circle cx="232.5" cy="233.5" r="1.4" fill="#4545ff"/>
<line x1="262.5" y1="190.1" x2="262.5" y2="232.4" stroke="#ff8f8f" stroke-width="1.0"/>
<line x1="260.2" y1="190.1" x2="264.8" y2="190.1" stroke="#ff8f8f" stroke-width="1.0"/>
<line x1="260.2" y1="232.4" x2="264.8" y2="232.4" stroke="#ff8f8f" stroke-width="1.0"/>
<circle cx="262.5" cy="211.4" r="1.4" fill="#ff4545"/>
<line x1="270.5" y1="193.5" x2="270.5" y2="256.3" stroke="#8f8fff" stroke-width="1.0"/>
<line x1="268.2" y1="193.5" x2="272.8" y2="193.5" stroke="#8f8fff" stroke-width="1.0"/>
<line x1="268.2" y1="256.3" x2="272.8" y2="256.3" stroke="#8f8fff" stroke-width="1.0"/>
<circle cx="270.5" cy="224.7" r="1.4" fill="#4545ff"/>
<rect x="66.9" y="160.3" width="207.3" height="124" fill="none" stroke="#7d7d7d" stroke-width="1"/>
<line x1="66.9" y1="279.6" x2="68.7" y2="279.6" stroke="#333" stroke-width="0.8"/>
<line x1="66.9" y1="273.84" x2="68.7" y2="273.84" stroke="#333" stroke-width="0.8"/>
<line x1="66.9" y1="268.08" x2="68.7" y2="268.08" stroke="#333" stroke-width="0.8"/>
<line x1="66.9" y1="262.32" x2="68.7" y2="262.32" stroke="#333" stroke-width="0.8"/>
<line x1="66.9" y1="256.56" x2="68.7" y2="256.56" stroke="#333" stroke-width="0.8"/>
<line x1="66.9" y1="250.8" x2="68.7" y2="250.8" stroke="#333" stroke-width="0.8"/>
<line x1="66.9" y1="245.04" x2="68.7" y2="245.04" stroke="#333" stroke-width="0.8"/>
<line x1="66.9" y1="239.28" x2="68.7" y2="239.28" stroke="#333" stroke-width="0.8"/>
<line x1="66.9" y1="233.52" x2="68.7" y2="233.52" stroke="#333" stroke-width="0.8"/>
<line x1="66.9" y1="227.76" x2="68.7" y2="227.76" stroke="#333" stroke-width="0.8"/>
<line x1="66.9" y1="222" x2="68.7" y2="222" stroke="#333" stroke-width="0.8"/>
<line x1="66.9" y1="216.24" x2="68.7" y2="216.24" stroke="#333" stroke-width="0.8"/>
<line x1="66.9" y1="210.48" x2="68.7" y2="210.48" stroke="#333" stroke-width="0.8"/>
<line x1="66.9" y1="204.72" x2="68.7" y2="204.72" stroke="#333" stroke-width="0.8"/>
<line x1="66.9" y1="198.96" x2="68.7" y2="198.96" stroke="#333" stroke-width="0.8"/>
<line x1="66.9" y1="193.2" x2="68.7" y2="193.2" stroke="#333" stroke-width="0.8"/>
<line x1="66.9" y1="187.44" x2="68.7" y2="187.44" stroke="#333" stroke-width="0.8"/>
<line x1="66.9" y1="181.68" x2="68.7" y2="181.68" stroke="#333" stroke-width="0.8"/>
<line x1="66.9" y1="175.92" x2="68.7" y2="175.92" stroke="#333" stroke-width="0.8"/>
<line x1="66.9" y1="170.16" x2="68.7" y2="170.16" stroke="#333" stroke-width="0.8"/>
<line x1="66.9" y1="164.4" x2="68.7" y2="164.4" stroke="#333" stroke-width="0.8"/>
<line x1="66.9" y1="279.6" x2="69.9" y2="279.6" stroke="#333" stroke-width="0.9"/>
<text x="47.5" y="284" font-size="10.3" textLength="18.49" lengthAdjust="spacingAndGlyphs" fill="#000000">0.52</text>
<line x1="66.9" y1="250.8" x2="69.9" y2="250.8" stroke="#333" stroke-width="0.9"/>
<text x="47.5" y="255" font-size="10.3" textLength="18.31" lengthAdjust="spacingAndGlyphs" fill="#000000">0.53</text>
<line x1="66.9" y1="222" x2="69.9" y2="222" stroke="#333" stroke-width="0.9"/>
<text x="47.51" y="226" font-size="10.3" textLength="18.05" lengthAdjust="spacingAndGlyphs" fill="#000000">0.54</text>
<line x1="66.9" y1="193.2" x2="69.9" y2="193.2" stroke="#333" stroke-width="0.9"/>
<text x="47.5" y="198" font-size="10.3" textLength="18.31" lengthAdjust="spacingAndGlyphs" fill="#000000">0.55</text>
<line x1="66.9" y1="164.4" x2="69.9" y2="164.4" stroke="#333" stroke-width="0.9"/>
<text x="47.5" y="169" font-size="10.3" textLength="18.21" lengthAdjust="spacingAndGlyphs" fill="#000000">0.56</text>
<line x1="79.6" y1="284.3" x2="79.6" y2="282" stroke="#333" stroke-width="0.9"/>
<line x1="116.94" y1="284.3" x2="116.94" y2="282" stroke="#333" stroke-width="0.9"/>
<line x1="154.28" y1="284.3" x2="154.28" y2="282" stroke="#333" stroke-width="0.9"/>
<line x1="191.62" y1="284.3" x2="191.62" y2="282" stroke="#333" stroke-width="0.9"/>
<line x1="228.96" y1="284.3" x2="228.96" y2="282" stroke="#333" stroke-width="0.9"/>
<line x1="266.3" y1="284.3" x2="266.3" y2="282" stroke="#333" stroke-width="0.9"/>
<polyline points="69.7,290.3 67.7,295.3 69.7,300.3" fill="none" stroke="#505050" stroke-width="0.6"/>
<text x="71.66" y="298" font-size="10.8" font-style="italic" textLength="6.26" lengthAdjust="spacingAndGlyphs" fill="#383838">F</text>
<text x="78.08" y="301" font-size="7" font-style="italic" textLength="3.85" lengthAdjust="spacingAndGlyphs" fill="#383838">L</text>
<text x="78.46" y="292.9" font-size="7" textLength="8.58" lengthAdjust="spacingAndGlyphs" fill="#444444">(e)</text>
<polyline points="88.4,290.3 90.5,295.3 88.4,300.3" fill="none" stroke="#505050" stroke-width="0.6"/>
<polyline points="107.04,290.3 105.04,295.3 107.04,300.3" fill="none" stroke="#505050" stroke-width="0.6"/>
<text x="109" y="298" font-size="10.8" font-style="italic" textLength="6.26" lengthAdjust="spacingAndGlyphs" fill="#383838">F</text>
<text x="115.42" y="301" font-size="7" font-style="italic" textLength="3.85" lengthAdjust="spacingAndGlyphs" fill="#383838">L</text>
<text x="115.79" y="292.9" font-size="7" textLength="9.6" lengthAdjust="spacingAndGlyphs" fill="#444444">(μ)</text>
<polyline points="126.74,290.3 128.84,295.3 126.74,300.3" fill="none" stroke="#505050" stroke-width="0.6"/>
<polyline points="143.88,290.5 142.28,295.35 143.88,300.2" fill="none" stroke="#505050" stroke-width="0.6"/>
<text x="144.69" y="298" font-size="10.8" textLength="7.32" lengthAdjust="spacingAndGlyphs" fill="#383838">Σ</text>
<text x="152.93" y="298" font-size="10.8" font-style="italic" textLength="5.87" lengthAdjust="spacingAndGlyphs" fill="#383838">F</text>
<text x="159.06" y="301" font-size="7" font-style="italic" textLength="3.95" lengthAdjust="spacingAndGlyphs" fill="#383838">L</text>
<polyline points="164.38,290.5 166.18,295.35 164.38,300.2" fill="none" stroke="#505050" stroke-width="0.6"/>
<polyline points="181.72,290.3 179.72,295.3 181.72,300.3" fill="none" stroke="#505050" stroke-width="0.6"/>
<text x="184.27" y="298" font-size="10.8" font-style="italic" textLength="6.16" lengthAdjust="spacingAndGlyphs" fill="#383838">F</text>
<path d="M185.22,288.8 C186.47,287.4 187.72,289.4 190.22,287.9" fill="none" stroke="#3a3a3a" stroke-width="0.7"/>
<text x="190.1" y="301" font-size="7" font-style="italic" textLength="3.85" lengthAdjust="spacingAndGlyphs" fill="#383838">L</text>
<text x="190.48" y="292.9" font-size="7" textLength="8.58" lengthAdjust="spacingAndGlyphs" fill="#444444">(e)</text>
<polyline points="200.42,290.3 202.52,295.3 200.42,300.3" fill="none" stroke="#505050" stroke-width="0.6"/>
<polyline points="219.06,290.3 217.06,295.3 219.06,300.3" fill="none" stroke="#505050" stroke-width="0.6"/>
<text x="221.61" y="298" font-size="10.8" font-style="italic" textLength="6.16" lengthAdjust="spacingAndGlyphs" fill="#383838">F</text>
<path d="M222.56,288.8 C223.81,287.4 225.06,289.4 227.56,287.9" fill="none" stroke="#3a3a3a" stroke-width="0.7"/>
<text x="227.44" y="301" font-size="7" font-style="italic" textLength="3.85" lengthAdjust="spacingAndGlyphs" fill="#383838">L</text>
<text x="227.81" y="292.9" font-size="7" textLength="9.6" lengthAdjust="spacingAndGlyphs" fill="#444444">(μ)</text>
<polyline points="238.76,290.3 240.86,295.3 238.76,300.3" fill="none" stroke="#505050" stroke-width="0.6"/>
<polyline points="255.9,290.5 254.3,295.35 255.9,300.2" fill="none" stroke="#505050" stroke-width="0.6"/>
<text x="256.71" y="298" font-size="10.8" textLength="7.32" lengthAdjust="spacingAndGlyphs" fill="#383838">Σ</text>
<text x="264.95" y="298" font-size="10.8" font-style="italic" textLength="5.87" lengthAdjust="spacingAndGlyphs" fill="#383838">F</text>
<path d="M266.1,288.8 C267.38,287.4 268.65,289.4 271.2,287.9" fill="none" stroke="#3a3a3a" stroke-width="0.7"/>
<text x="271.08" y="301" font-size="7" font-style="italic" textLength="3.95" lengthAdjust="spacingAndGlyphs" fill="#383838">L</text>
<polyline points="276.4,290.5 278.2,295.35 276.4,300.2" fill="none" stroke="#505050" stroke-width="0.6"/>
<line x1="431.5" y1="261.98" x2="635.6" y2="261.98" stroke="#f1f1f1" stroke-width="1"/>
<line x1="431.5" y1="241.67" x2="635.6" y2="241.67" stroke="#f1f1f1" stroke-width="1"/>
<line x1="431.5" y1="201.03" x2="635.6" y2="201.03" stroke="#f1f1f1" stroke-width="1"/>
<line x1="431.5" y1="180.72" x2="635.6" y2="180.72" stroke="#f1f1f1" stroke-width="1"/>
<rect x="587.6" y="167.7" width="23" height="10" fill="#fff"/>
<rect x="587.6" y="187.9" width="16" height="10" fill="#fff"/>
<circle cx="581.1" cy="173.7" r="1.6" fill="#ff4545"/>
<circle cx="581.1" cy="193.9" r="1.6" fill="#4545ff"/>
<text x="589.32" y="177.3" font-size="9.5" textLength="20.21" lengthAdjust="spacingAndGlyphs" fill="#333">Belle</text>
<text x="588.99" y="197.5" font-size="9.5" textLength="13.28" lengthAdjust="spacingAndGlyphs" fill="#333">SM</text>
<line x1="439.5" y1="199.2" x2="439.5" y2="213.1" stroke="#ff8f8f" stroke-width="1.0"/>
<line x1="437.2" y1="199.2" x2="441.8" y2="199.2" stroke="#ff8f8f" stroke-width="1.0"/>
<line x1="437.2" y1="213.1" x2="441.8" y2="213.1" stroke="#ff8f8f" stroke-width="1.0"/>
<circle cx="439.5" cy="206" r="1.4" fill="#ff4545"/>
<line x1="446.5" y1="184.5" x2="446.5" y2="209.2" stroke="#8f8fff" stroke-width="1.0"/>
<line x1="444.2" y1="184.5" x2="448.8" y2="184.5" stroke="#8f8fff" stroke-width="1.0"/>
<line x1="444.2" y1="209.2" x2="448.8" y2="209.2" stroke="#8f8fff" stroke-width="1.0"/>
<circle cx="446.5" cy="196.9" r="1.4" fill="#4545ff"/>
<line x1="476.5" y1="164.5" x2="476.5" y2="176.4" stroke="#ff8f8f" stroke-width="1.0"/>
<line x1="474.2" y1="164.5" x2="478.8" y2="164.5" stroke="#ff8f8f" stroke-width="1.0"/>
<line x1="474.2" y1="176.4" x2="478.8" y2="176.4" stroke="#ff8f8f" stroke-width="1.0"/>
<circle cx="476.5" cy="170.4" r="1.4" fill="#ff4545"/>
<line x1="483.5" y1="190.6" x2="483.5" y2="215.2" stroke="#8f8fff" stroke-width="1.0"/>
<line x1="481.2" y1="190.6" x2="485.8" y2="190.6" stroke="#8f8fff" stroke-width="1.0"/>
<line x1="481.2" y1="215.2" x2="485.8" y2="215.2" stroke="#8f8fff" stroke-width="1.0"/>
<circle cx="483.5" cy="203.1" r="1.4" fill="#4545ff"/>
<line x1="513.5" y1="183.4" x2="513.5" y2="193.1" stroke="#ff8f8f" stroke-width="1.0"/>
<line x1="511.2" y1="183.4" x2="515.8" y2="183.4" stroke="#ff8f8f" stroke-width="1.0"/>
<line x1="511.2" y1="193.1" x2="515.8" y2="193.1" stroke="#ff8f8f" stroke-width="1.0"/>
<circle cx="513.5" cy="188" r="1.4" fill="#ff4545"/>
<line x1="520.5" y1="187.6" x2="520.5" y2="212.3" stroke="#8f8fff" stroke-width="1.0"/>
<line x1="518.2" y1="187.6" x2="522.8" y2="187.6" stroke="#8f8fff" stroke-width="1.0"/>
<line x1="518.2" y1="212.3" x2="522.8" y2="212.3" stroke="#8f8fff" stroke-width="1.0"/>
<circle cx="520.5" cy="200" r="1.4" fill="#4545ff"/>
<line x1="550.5" y1="262.3" x2="550.5" y2="277.3" stroke="#ff8f8f" stroke-width="1.0"/>
<line x1="548.2" y1="262.3" x2="552.8" y2="262.3" stroke="#ff8f8f" stroke-width="1.0"/>
<line x1="548.2" y1="277.3" x2="552.8" y2="277.3" stroke="#ff8f8f" stroke-width="1.0"/>
<circle cx="550.5" cy="269.9" r="1.4" fill="#ff4545"/>
<line x1="557.5" y1="263.5" x2="557.5" y2="270.7" stroke="#8f8fff" stroke-width="1.0"/>
<line x1="555.2" y1="263.5" x2="559.8" y2="263.5" stroke="#8f8fff" stroke-width="1.0"/>
<line x1="555.2" y1="270.7" x2="559.8" y2="270.7" stroke="#8f8fff" stroke-width="1.0"/>
<circle cx="557.5" cy="267" r="1.4" fill="#4545ff"/>
<line x1="587.5" y1="248.6" x2="587.5" y2="264.7" stroke="#ff8f8f" stroke-width="1.0"/>
<line x1="585.2" y1="248.6" x2="589.8" y2="248.6" stroke="#ff8f8f" stroke-width="1.0"/>
<line x1="585.2" y1="264.7" x2="589.8" y2="264.7" stroke="#ff8f8f" stroke-width="1.0"/>
<circle cx="587.5" cy="256.9" r="1.4" fill="#ff4545"/>
<line x1="594.5" y1="264.4" x2="594.5" y2="271.5" stroke="#8f8fff" stroke-width="1.0"/>
<line x1="592.2" y1="264.4" x2="596.8" y2="264.4" stroke="#8f8fff" stroke-width="1.0"/>
<line x1="592.2" y1="271.5" x2="596.8" y2="271.5" stroke="#8f8fff" stroke-width="1.0"/>
<circle cx="594.5" cy="268.1" r="1.4" fill="#4545ff"/>
<line x1="623.5" y1="257.6" x2="623.5" y2="268.9" stroke="#ff8f8f" stroke-width="1.0"/>
<line x1="621.2" y1="257.6" x2="625.8" y2="257.6" stroke="#ff8f8f" stroke-width="1.0"/>
<line x1="621.2" y1="268.9" x2="625.8" y2="268.9" stroke="#ff8f8f" stroke-width="1.0"/>
<circle cx="623.5" cy="263.2" r="1.4" fill="#ff4545"/>
<line x1="631.5" y1="263.5" x2="631.5" y2="271.5" stroke="#8f8fff" stroke-width="1.0"/>
<line x1="629.2" y1="263.5" x2="633.8" y2="263.5" stroke="#8f8fff" stroke-width="1.0"/>
<line x1="629.2" y1="271.5" x2="633.8" y2="271.5" stroke="#8f8fff" stroke-width="1.0"/>
<circle cx="631.5" cy="267.6" r="1.4" fill="#4545ff"/>
<rect x="431.5" y="160.4" width="204.1" height="121.9" fill="none" stroke="#7d7d7d" stroke-width="1"/>
<line x1="431.5" y1="282.3" x2="433.3" y2="282.3" stroke="#333" stroke-width="0.8"/>
<line x1="431.5" y1="277.22" x2="433.3" y2="277.22" stroke="#333" stroke-width="0.8"/>
<line x1="431.5" y1="272.14" x2="433.3" y2="272.14" stroke="#333" stroke-width="0.8"/>
<line x1="431.5" y1="267.06" x2="433.3" y2="267.06" stroke="#333" stroke-width="0.8"/>
<line x1="431.5" y1="261.98" x2="433.3" y2="261.98" stroke="#333" stroke-width="0.8"/>
<line x1="431.5" y1="256.9" x2="433.3" y2="256.9" stroke="#333" stroke-width="0.8"/>
<line x1="431.5" y1="251.82" x2="433.3" y2="251.82" stroke="#333" stroke-width="0.8"/>
<line x1="431.5" y1="246.75" x2="433.3" y2="246.75" stroke="#333" stroke-width="0.8"/>
<line x1="431.5" y1="241.67" x2="433.3" y2="241.67" stroke="#333" stroke-width="0.8"/>
<line x1="431.5" y1="236.59" x2="433.3" y2="236.59" stroke="#333" stroke-width="0.8"/>
<line x1="431.5" y1="231.51" x2="433.3" y2="231.51" stroke="#333" stroke-width="0.8"/>
<line x1="431.5" y1="226.43" x2="433.3" y2="226.43" stroke="#333" stroke-width="0.8"/>
<line x1="431.5" y1="221.35" x2="433.3" y2="221.35" stroke="#333" stroke-width="0.8"/>
<line x1="431.5" y1="216.27" x2="433.3" y2="216.27" stroke="#333" stroke-width="0.8"/>
<line x1="431.5" y1="211.19" x2="433.3" y2="211.19" stroke="#333" stroke-width="0.8"/>
<line x1="431.5" y1="206.11" x2="433.3" y2="206.11" stroke="#333" stroke-width="0.8"/>
<line x1="431.5" y1="201.03" x2="433.3" y2="201.03" stroke="#333" stroke-width="0.8"/>
<line x1="431.5" y1="195.95" x2="433.3" y2="195.95" stroke="#333" stroke-width="0.8"/>
<line x1="431.5" y1="190.88" x2="433.3" y2="190.88" stroke="#333" stroke-width="0.8"/>
<line x1="431.5" y1="185.8" x2="433.3" y2="185.8" stroke="#333" stroke-width="0.8"/>
<line x1="431.5" y1="180.72" x2="433.3" y2="180.72" stroke="#333" stroke-width="0.8"/>
<line x1="431.5" y1="175.64" x2="433.3" y2="175.64" stroke="#333" stroke-width="0.8"/>
<line x1="431.5" y1="170.56" x2="433.3" y2="170.56" stroke="#333" stroke-width="0.8"/>
<line x1="431.5" y1="165.48" x2="433.3" y2="165.48" stroke="#333" stroke-width="0.8"/>
<line x1="431.5" y1="160.4" x2="433.3" y2="160.4" stroke="#333" stroke-width="0.8"/>
<line x1="431.5" y1="282.3" x2="434.5" y2="282.3" stroke="#333" stroke-width="0.9"/>
<text x="411.29" y="287" font-size="10.3" textLength="18.91" lengthAdjust="spacingAndGlyphs" fill="#000000">0.12</text>
<line x1="431.5" y1="261.98" x2="434.5" y2="261.98" stroke="#333" stroke-width="0.9"/>
<text x="411.3" y="267" font-size="10.3" textLength="18.47" lengthAdjust="spacingAndGlyphs" fill="#000000">0.14</text>
<line x1="431.5" y1="241.67" x2="434.5" y2="241.67" stroke="#333" stroke-width="0.9"/>
<text x="411.29" y="246" font-size="10.3" textLength="18.62" lengthAdjust="spacingAndGlyphs" fill="#000000">0.16</text>
<line x1="431.5" y1="221.35" x2="434.5" y2="221.35" stroke="#333" stroke-width="0.9"/>
<text x="411.29" y="226" font-size="10.3" textLength="18.71" lengthAdjust="spacingAndGlyphs" fill="#000000">0.18</text>
<line x1="431.5" y1="201.03" x2="434.5" y2="201.03" stroke="#333" stroke-width="0.9"/>
<text x="411.29" y="206" font-size="10.3" textLength="18.71" lengthAdjust="spacingAndGlyphs" fill="#000000">0.20</text>
<line x1="431.5" y1="180.72" x2="434.5" y2="180.72" stroke="#333" stroke-width="0.9"/>
<text x="411.29" y="185" font-size="10.3" textLength="18.91" lengthAdjust="spacingAndGlyphs" fill="#000000">0.22</text>
<line x1="431.5" y1="160.4" x2="434.5" y2="160.4" stroke="#333" stroke-width="0.9"/>
<text x="411.3" y="165" font-size="10.3" textLength="18.47" lengthAdjust="spacingAndGlyphs" fill="#000000">0.24</text>
<line x1="443.4" y1="282.3" x2="443.4" y2="280" stroke="#333" stroke-width="0.9"/>
<line x1="480.2" y1="282.3" x2="480.2" y2="280" stroke="#333" stroke-width="0.9"/>
<line x1="517" y1="282.3" x2="517" y2="280" stroke="#333" stroke-width="0.9"/>
<line x1="553.8" y1="282.3" x2="553.8" y2="280" stroke="#333" stroke-width="0.9"/>
<line x1="590.6" y1="282.3" x2="590.6" y2="280" stroke="#333" stroke-width="0.9"/>
<line x1="627.4" y1="282.3" x2="627.4" y2="280" stroke="#333" stroke-width="0.9"/>
<polyline points="433.7,288.2 431.6,293.3 433.7,298.4" fill="none" stroke="#505050" stroke-width="0.6"/>
<text x="435.54" y="296" font-size="10.4" font-style="italic" textLength="6.03" lengthAdjust="spacingAndGlyphs" fill="#383838">A</text>
<text x="442.4" y="298.9" font-size="7.5" textLength="8.65" lengthAdjust="spacingAndGlyphs" fill="#444444">FB</text>
<text x="442.06" y="291.2" font-size="7" textLength="8.47" lengthAdjust="spacingAndGlyphs" fill="#444444">(e)</text>
<polyline points="452.6,288.2 454.5,293.3 452.6,298.4" fill="none" stroke="#505050" stroke-width="0.6"/>
<polyline points="470.5,288.2 468.4,293.3 470.5,298.4" fill="none" stroke="#505050" stroke-width="0.6"/>
<text x="472.34" y="296" font-size="10.4" font-style="italic" textLength="6.03" lengthAdjust="spacingAndGlyphs" fill="#383838">A</text>
<text x="479.2" y="298.9" font-size="7.5" textLength="8.65" lengthAdjust="spacingAndGlyphs" fill="#444444">FB</text>
<text x="478.85" y="291.2" font-size="7" textLength="9.49" lengthAdjust="spacingAndGlyphs" fill="#444444">(μ)</text>
<polyline points="489.4,288.2 491.3,293.3 489.4,298.4" fill="none" stroke="#505050" stroke-width="0.6"/>
<polyline points="504.2,288.7 502.4,293.35 504.2,298" fill="none" stroke="#505050" stroke-width="0.6"/>
<text x="504.59" y="296" font-size="10.6" textLength="7.56" lengthAdjust="spacingAndGlyphs" fill="#383838">Σ</text>
<text x="512.85" y="296" font-size="10.4" font-style="italic" textLength="6.12" lengthAdjust="spacingAndGlyphs" fill="#383838">A</text>
<text x="519.56" y="298.9" font-size="7.5" textLength="10.36" lengthAdjust="spacingAndGlyphs" fill="#444444">FB</text>
<polyline points="530.5,288.7 532.3,293.35 530.5,298" fill="none" stroke="#505050" stroke-width="0.6"/>
<text x="537.65" y="297" font-size="10.5" textLength="6.18" lengthAdjust="spacingAndGlyphs" fill="#383838">−</text>
<polyline points="548.1,289.3 546.3,294.3 548.1,299.3" fill="none" stroke="#505050" stroke-width="0.6"/>
<text x="549.34" y="297.2" font-size="10.5" font-style="italic" textLength="6.67" lengthAdjust="spacingAndGlyphs" fill="#383838">S</text>
<text x="555.42" y="300.3" font-size="7.5" textLength="3.99" lengthAdjust="spacingAndGlyphs" fill="#444444">3</text>
<text x="556.27" y="292" font-size="7" textLength="8.36" lengthAdjust="spacingAndGlyphs" fill="#444444">(e)</text>
<polyline points="565.8,289.3 567.8,294.3 565.8,299.3" fill="none" stroke="#505050" stroke-width="0.6"/>
<text x="574.45" y="297" font-size="10.5" textLength="6.18" lengthAdjust="spacingAndGlyphs" fill="#383838">−</text>
<polyline points="584.9,289.3 583.1,294.3 584.9,299.3" fill="none" stroke="#505050" stroke-width="0.6"/>
<text x="586.14" y="297.2" font-size="10.5" font-style="italic" textLength="6.67" lengthAdjust="spacingAndGlyphs" fill="#383838">S</text>
<text x="592.22" y="300.3" font-size="7.5" textLength="3.99" lengthAdjust="spacingAndGlyphs" fill="#444444">3</text>
<text x="592.43" y="292" font-size="7" textLength="10.14" lengthAdjust="spacingAndGlyphs" fill="#444444">(μ)</text>
<polyline points="603.7,289.3 605.7,294.3 603.7,299.3" fill="none" stroke="#505050" stroke-width="0.6"/>
<text x="610.4" y="297" font-size="10.5" textLength="6.79" lengthAdjust="spacingAndGlyphs" fill="#383838">−</text>
<polyline points="621.2,289.3 619.4,294.3 621.2,299.3" fill="none" stroke="#505050" stroke-width="0.6"/>
<text x="622.49" y="297.2" font-size="10.6" textLength="7.56" lengthAdjust="spacingAndGlyphs" fill="#383838">Σ</text>
<text x="629.76" y="297.2" font-size="10.5" font-style="italic" textLength="6.14" lengthAdjust="spacingAndGlyphs" fill="#383838">S</text>
<text x="635.64" y="300.3" font-size="7.5" textLength="3.75" lengthAdjust="spacingAndGlyphs" fill="#444444">3</text>
<polyline points="640.6,289.3 642.6,294.3 640.6,299.3" fill="none" stroke="#505050" stroke-width="0.6"/>
<line x1="69.8" y1="431.54" x2="271.6" y2="431.54" stroke="#f1f1f1" stroke-width="1"/>
<line x1="69.8" y1="411.46" x2="271.6" y2="411.46" stroke="#f1f1f1" stroke-width="1"/>
<line x1="69.8" y1="391.38" x2="271.6" y2="391.38" stroke="#f1f1f1" stroke-width="1"/>
<line x1="69.8" y1="351.22" x2="271.6" y2="351.22" stroke="#f1f1f1" stroke-width="1"/>
<line x1="69.8" y1="331.14" x2="271.6" y2="331.14" stroke="#f1f1f1" stroke-width="1"/>
<rect x="123.1" y="398.4" width="23" height="10" fill="#fff"/>
<rect x="123.1" y="418.8" width="16" height="10" fill="#fff"/>
<circle cx="116.2" cy="404.4" r="1.6" fill="#ff4545"/>
<circle cx="116.2" cy="424.8" r="1.6" fill="#4545ff"/>
<text x="124.82" y="408" font-size="9.5" textLength="20.21" lengthAdjust="spacingAndGlyphs" fill="#333">Belle</text>
<text x="124.49" y="428.4" font-size="9.5" textLength="13.28" lengthAdjust="spacingAndGlyphs" fill="#333">SM</text>
<line x1="79.9" y1="370.3" x2="84.7" y2="370.3" stroke="#8f8fff" stroke-width="1"/>
<circle cx="82.3" cy="370.3" r="1.4" fill="#4545ff"/>
<line x1="103" y1="370.3" x2="107.8" y2="370.3" stroke="#8f8fff" stroke-width="1"/>
<circle cx="105.4" cy="370.3" r="1.4" fill="#4545ff"/>
<line x1="126.3" y1="370.3" x2="131.1" y2="370.3" stroke="#8f8fff" stroke-width="1"/>
<circle cx="128.7" cy="370.3" r="1.4" fill="#4545ff"/>
<line x1="149.3" y1="370.3" x2="154.1" y2="370.3" stroke="#8f8fff" stroke-width="1"/>
<circle cx="151.7" cy="370.3" r="1.4" fill="#4545ff"/>
<line x1="172.5" y1="370.3" x2="177.3" y2="370.3" stroke="#8f8fff" stroke-width="1"/>
<circle cx="174.9" cy="370.3" r="1.4" fill="#4545ff"/>
<line x1="195.7" y1="370.3" x2="200.5" y2="370.3" stroke="#8f8fff" stroke-width="1"/>
<circle cx="198.1" cy="370.3" r="1.4" fill="#4545ff"/>
<line x1="218.7" y1="370.3" x2="223.5" y2="370.3" stroke="#8f8fff" stroke-width="1"/>
<circle cx="221.1" cy="370.3" r="1.4" fill="#4545ff"/>
<line x1="242.2" y1="370.3" x2="247" y2="370.3" stroke="#8f8fff" stroke-width="1"/>
<circle cx="244.6" cy="370.3" r="1.4" fill="#4545ff"/>
<line x1="265" y1="370.3" x2="269.8" y2="370.3" stroke="#8f8fff" stroke-width="1"/>
<circle cx="267.4" cy="370.3" r="1.4" fill="#4545ff"/>
<line x1="69.8" y1="371.3" x2="271.6" y2="371.3" stroke="#9a9a9a" stroke-width="1"/>
<line x1="77.5" y1="375.4" x2="77.5" y2="399.3" stroke="#ff8f8f" stroke-width="1.0"/>
<line x1="75.2" y1="375.4" x2="79.8" y2="375.4" stroke="#ff8f8f" stroke-width="1.0"/>
<line x1="75.2" y1="399.3" x2="79.8" y2="399.3" stroke="#ff8f8f" stroke-width="1.0"/>
<circle cx="77.5" cy="387.6" r="1.4" fill="#ff4545"/>
<line x1="100.5" y1="368.5" x2="100.5" y2="394.7" stroke="#ff8f8f" stroke-width="1.0"/>
<line x1="98.2" y1="368.5" x2="102.8" y2="368.5" stroke="#ff8f8f" stroke-width="1.0"/>
<line x1="98.2" y1="394.7" x2="102.8" y2="394.7" stroke="#ff8f8f" stroke-width="1.0"/>
<circle cx="100.5" cy="381.5" r="1.4" fill="#ff4545"/>
<line x1="124.5" y1="346.5" x2="124.5" y2="377.2" stroke="#ff8f8f" stroke-width="1.0"/>
<line x1="122.2" y1="346.5" x2="126.8" y2="346.5" stroke="#ff8f8f" stroke-width="1.0"/>
<line x1="122.2" y1="377.2" x2="126.8" y2="377.2" stroke="#ff8f8f" stroke-width="1.0"/>
<circle cx="124.5" cy="361.6" r="1.4" fill="#ff4545"/>
<line x1="147.5" y1="335.4" x2="147.5" y2="372.3" stroke="#ff8f8f" stroke-width="1.0"/>
<line x1="145.2" y1="335.4" x2="149.8" y2="335.4" stroke="#ff8f8f" stroke-width="1.0"/>
<line x1="145.2" y1="372.3" x2="149.8" y2="372.3" stroke="#ff8f8f" stroke-width="1.0"/>
<circle cx="147.5" cy="353.9" r="1.4" fill="#ff4545"/>
<line x1="170.5" y1="364.4" x2="170.5" y2="406.2" stroke="#ff8f8f" stroke-width="1.0"/>
<line x1="168.2" y1="364.4" x2="172.8" y2="364.4" stroke="#ff8f8f" stroke-width="1.0"/>
<line x1="168.2" y1="406.2" x2="172.8" y2="406.2" stroke="#ff8f8f" stroke-width="1.0"/>
<circle cx="170.5" cy="385.4" r="1.4" fill="#ff4545"/>
<line x1="193.5" y1="322.3" x2="193.5" y2="367" stroke="#ff8f8f" stroke-width="1.0"/>
<line x1="191.2" y1="322.3" x2="195.8" y2="322.3" stroke="#ff8f8f" stroke-width="1.0"/>
<line x1="191.2" y1="367" x2="195.8" y2="367" stroke="#ff8f8f" stroke-width="1.0"/>
<circle cx="193.5" cy="344.6" r="1.4" fill="#ff4545"/>
<line x1="216.5" y1="391.3" x2="216.5" y2="434.5" stroke="#ff8f8f" stroke-width="1.0"/>
<line x1="214.2" y1="391.3" x2="218.8" y2="391.3" stroke="#ff8f8f" stroke-width="1.0"/>
<line x1="214.2" y1="434.5" x2="218.8" y2="434.5" stroke="#ff8f8f" stroke-width="1.0"/>
<circle cx="216.5" cy="412.6" r="1.4" fill="#ff4545"/>
<line x1="239.5" y1="350.4" x2="239.5" y2="392.3" stroke="#ff8f8f" stroke-width="1.0"/>
<line x1="237.2" y1="350.4" x2="241.8" y2="350.4" stroke="#ff8f8f" stroke-width="1.0"/>
<line x1="237.2" y1="392.3" x2="241.8" y2="392.3" stroke="#ff8f8f" stroke-width="1.0"/>
<circle cx="239.5" cy="371.4" r="1.4" fill="#ff4545"/>
<line x1="262.5" y1="345.8" x2="262.5" y2="381.3" stroke="#ff8f8f" stroke-width="1.0"/>
<line x1="260.2" y1="345.8" x2="264.8" y2="345.8" stroke="#ff8f8f" stroke-width="1.0"/>
<line x1="260.2" y1="381.3" x2="264.8" y2="381.3" stroke="#ff8f8f" stroke-width="1.0"/>
<circle cx="262.5" cy="363.5" r="1.4" fill="#ff4545"/>
<rect x="69.8" y="318.9" width="201.8" height="121.1" fill="none" stroke="#7d7d7d" stroke-width="1"/>
<line x1="69.8" y1="439.57" x2="71.6" y2="439.57" stroke="#333" stroke-width="0.8"/>
<line x1="69.8" y1="435.56" x2="71.6" y2="435.56" stroke="#333" stroke-width="0.8"/>
<line x1="69.8" y1="431.54" x2="71.6" y2="431.54" stroke="#333" stroke-width="0.8"/>
<line x1="69.8" y1="427.52" x2="71.6" y2="427.52" stroke="#333" stroke-width="0.8"/>
<line x1="69.8" y1="423.51" x2="71.6" y2="423.51" stroke="#333" stroke-width="0.8"/>
<line x1="69.8" y1="419.49" x2="71.6" y2="419.49" stroke="#333" stroke-width="0.8"/>
<line x1="69.8" y1="415.48" x2="71.6" y2="415.48" stroke="#333" stroke-width="0.8"/>
<line x1="69.8" y1="411.46" x2="71.6" y2="411.46" stroke="#333" stroke-width="0.8"/>
<line x1="69.8" y1="407.44" x2="71.6" y2="407.44" stroke="#333" stroke-width="0.8"/>
<line x1="69.8" y1="403.43" x2="71.6" y2="403.43" stroke="#333" stroke-width="0.8"/>
<line x1="69.8" y1="399.41" x2="71.6" y2="399.41" stroke="#333" stroke-width="0.8"/>
<line x1="69.8" y1="395.4" x2="71.6" y2="395.4" stroke="#333" stroke-width="0.8"/>
<line x1="69.8" y1="391.38" x2="71.6" y2="391.38" stroke="#333" stroke-width="0.8"/>
<line x1="69.8" y1="387.36" x2="71.6" y2="387.36" stroke="#333" stroke-width="0.8"/>
<line x1="69.8" y1="383.35" x2="71.6" y2="383.35" stroke="#333" stroke-width="0.8"/>
<line x1="69.8" y1="379.33" x2="71.6" y2="379.33" stroke="#333" stroke-width="0.8"/>
<line x1="69.8" y1="375.32" x2="71.6" y2="375.32" stroke="#333" stroke-width="0.8"/>
<line x1="69.8" y1="371.3" x2="71.6" y2="371.3" stroke="#333" stroke-width="0.8"/>
<line x1="69.8" y1="367.28" x2="71.6" y2="367.28" stroke="#333" stroke-width="0.8"/>
<line x1="69.8" y1="363.27" x2="71.6" y2="363.27" stroke="#333" stroke-width="0.8"/>
<line x1="69.8" y1="359.25" x2="71.6" y2="359.25" stroke="#333" stroke-width="0.8"/>
<line x1="69.8" y1="355.24" x2="71.6" y2="355.24" stroke="#333" stroke-width="0.8"/>
<line x1="69.8" y1="351.22" x2="71.6" y2="351.22" stroke="#333" stroke-width="0.8"/>
<line x1="69.8" y1="347.2" x2="71.6" y2="347.2" stroke="#333" stroke-width="0.8"/>
<line x1="69.8" y1="343.19" x2="71.6" y2="343.19" stroke="#333" stroke-width="0.8"/>
<line x1="69.8" y1="339.17" x2="71.6" y2="339.17" stroke="#333" stroke-width="0.8"/>
<line x1="69.8" y1="335.16" x2="71.6" y2="335.16" stroke="#333" stroke-width="0.8"/>
<line x1="69.8" y1="331.14" x2="71.6" y2="331.14" stroke="#333" stroke-width="0.8"/>
<line x1="69.8" y1="327.12" x2="71.6" y2="327.12" stroke="#333" stroke-width="0.8"/>
<line x1="69.8" y1="323.11" x2="71.6" y2="323.11" stroke="#333" stroke-width="0.8"/>
<line x1="69.8" y1="319.09" x2="71.6" y2="319.09" stroke="#333" stroke-width="0.8"/>
<line x1="69.8" y1="431.54" x2="72.8" y2="431.54" stroke="#333" stroke-width="0.9"/>
<text x="43.79" y="436" font-size="11" textLength="24.44" lengthAdjust="spacingAndGlyphs" fill="#000000">0.015</text>
<text x="36.59" y="436" font-size="11" textLength="6.91" lengthAdjust="spacingAndGlyphs" fill="#000000">−</text>
<line x1="69.8" y1="411.46" x2="72.8" y2="411.46" stroke="#333" stroke-width="0.9"/>
<text x="43.79" y="416" font-size="11" textLength="24.43" lengthAdjust="spacingAndGlyphs" fill="#000000">0.010</text>
<text x="36.59" y="416" font-size="11" textLength="6.91" lengthAdjust="spacingAndGlyphs" fill="#000000">−</text>
<line x1="69.8" y1="391.38" x2="72.8" y2="391.38" stroke="#333" stroke-width="0.9"/>
<text x="43.79" y="396" font-size="11" textLength="24.44" lengthAdjust="spacingAndGlyphs" fill="#000000">0.005</text>
<text x="36.59" y="396" font-size="11" textLength="6.91" lengthAdjust="spacingAndGlyphs" fill="#000000">−</text>
<line x1="69.8" y1="371.3" x2="72.8" y2="371.3" stroke="#333" stroke-width="0.9"/>
<text x="43.79" y="376" font-size="11" textLength="24.43" lengthAdjust="spacingAndGlyphs" fill="#000000">0.000</text>
<line x1="69.8" y1="351.22" x2="72.8" y2="351.22" stroke="#333" stroke-width="0.9"/>
<text x="43.79" y="356" font-size="11" textLength="24.44" lengthAdjust="spacingAndGlyphs" fill="#000000">0.005</text>
<line x1="69.8" y1="331.14" x2="72.8" y2="331.14" stroke="#333" stroke-width="0.9"/>
<text x="43.79" y="336" font-size="11" textLength="24.43" lengthAdjust="spacingAndGlyphs" fill="#000000">0.010</text>
<line x1="79.9" y1="440" x2="79.9" y2="437.7" stroke="#333" stroke-width="0.9"/>
<line x1="103.03" y1="440" x2="103.03" y2="437.7" stroke="#333" stroke-width="0.9"/>
<line x1="126.15" y1="440" x2="126.15" y2="437.7" stroke="#333" stroke-width="0.9"/>
<line x1="149.28" y1="440" x2="149.28" y2="437.7" stroke="#333" stroke-width="0.9"/>
<line x1="172.4" y1="440" x2="172.4" y2="437.7" stroke="#333" stroke-width="0.9"/>
<line x1="195.53" y1="440" x2="195.53" y2="437.7" stroke="#333" stroke-width="0.9"/>
<line x1="218.65" y1="440" x2="218.65" y2="437.7" stroke="#333" stroke-width="0.9"/>
<line x1="241.78" y1="440" x2="241.78" y2="437.7" stroke="#333" stroke-width="0.9"/>
<line x1="264.9" y1="440" x2="264.9" y2="437.7" stroke="#333" stroke-width="0.9"/>
<text x="70.38" y="451.8" font-size="11.2" textLength="8.73" lengthAdjust="spacingAndGlyphs" fill="#383838">Δ</text>
<text x="79.05" y="451.8" font-size="11" font-style="italic" textLength="5.44" lengthAdjust="spacingAndGlyphs" fill="#383838">x</text>
<text x="84.69" y="453.5" font-size="7" fill="#444444">2</text>
<text x="93.51" y="451.8" font-size="11.2" textLength="8.73" lengthAdjust="spacingAndGlyphs" fill="#383838">Δ</text>
<text x="102.17" y="451.8" font-size="11" font-style="italic" textLength="5.44" lengthAdjust="spacingAndGlyphs" fill="#383838">x</text>
<text x="107.79" y="453.5" font-size="7" fill="#444444">3</text>
<text x="116.63" y="451.8" font-size="11.2" textLength="8.73" lengthAdjust="spacingAndGlyphs" fill="#383838">Δ</text>
<text x="125.3" y="451.8" font-size="11" font-style="italic" textLength="5.44" lengthAdjust="spacingAndGlyphs" fill="#383838">x</text>
<text x="131.11" y="453.5" font-size="7" fill="#444444">4</text>
<text x="139.76" y="451.8" font-size="11.2" textLength="8.73" lengthAdjust="spacingAndGlyphs" fill="#383838">Δ</text>
<text x="148.42" y="451.8" font-size="11" font-style="italic" textLength="5.44" lengthAdjust="spacingAndGlyphs" fill="#383838">x</text>
<text x="153.97" y="453.5" font-size="7" fill="#444444">5</text>
<text x="162.88" y="451.8" font-size="11.2" textLength="8.73" lengthAdjust="spacingAndGlyphs" fill="#383838">Δ</text>
<text x="171.55" y="451.8" font-size="11" font-style="italic" textLength="5.44" lengthAdjust="spacingAndGlyphs" fill="#383838">x</text>
<text x="177.2" y="453.5" font-size="7" fill="#444444">6</text>
<text x="186.01" y="451.8" font-size="11.2" textLength="8.73" lengthAdjust="spacingAndGlyphs" fill="#383838">Δ</text>
<text x="194.67" y="451.8" font-size="11" font-style="italic" textLength="5.44" lengthAdjust="spacingAndGlyphs" fill="#383838">x</text>
<text x="200.16" y="453.5" font-size="7" fill="#444444">7</text>
<text x="209.13" y="451.8" font-size="11.2" textLength="8.73" lengthAdjust="spacingAndGlyphs" fill="#383838">Δ</text>
<text x="217.8" y="451.8" font-size="11" font-style="italic" textLength="5.44" lengthAdjust="spacingAndGlyphs" fill="#383838">x</text>
<text x="223.48" y="453.5" font-size="7" fill="#444444">8</text>
<text x="232.26" y="451.8" font-size="11.2" textLength="8.73" lengthAdjust="spacingAndGlyphs" fill="#383838">Δ</text>
<text x="240.92" y="451.8" font-size="11" font-style="italic" textLength="5.44" lengthAdjust="spacingAndGlyphs" fill="#383838">x</text>
<text x="246.65" y="453.5" font-size="7" fill="#444444">9</text>
<text x="253.78" y="451.8" font-size="11.2" textLength="8.73" lengthAdjust="spacingAndGlyphs" fill="#383838">Δ</text>
<text x="262.45" y="451.8" font-size="11" font-style="italic" textLength="5.44" lengthAdjust="spacingAndGlyphs" fill="#383838">x</text>
<text x="267.78" y="453.5" font-size="7" fill="#444444">10</text>
<line x1="435.6" y1="421.3" x2="644.2" y2="421.3" stroke="#f1f1f1" stroke-width="1"/>
<line x1="435.6" y1="359.3" x2="644.2" y2="359.3" stroke="#f1f1f1" stroke-width="1"/>
<line x1="435.6" y1="328.3" x2="644.2" y2="328.3" stroke="#f1f1f1" stroke-width="1"/>
<rect x="595.2" y="320.4" width="23" height="10" fill="#fff"/>
<rect x="595.2" y="341" width="16" height="10" fill="#fff"/>
<circle cx="588.4" cy="326.4" r="1.6" fill="#ff4545"/>
<circle cx="588.4" cy="347" r="1.6" fill="#4545ff"/>
<text x="596.92" y="330" font-size="9.5" textLength="20.21" lengthAdjust="spacingAndGlyphs" fill="#333">Belle</text>
<text x="596.59" y="350.6" font-size="9.5" textLength="13.28" lengthAdjust="spacingAndGlyphs" fill="#333">SM</text>
<line x1="435.6" y1="390.3" x2="644.2" y2="390.3" stroke="#bdbdbd" stroke-width="1"/>
<line x1="443.5" y1="391.3" x2="443.5" y2="410" stroke="#ff8f8f" stroke-width="1.0"/>
<line x1="441.2" y1="391.3" x2="445.8" y2="391.3" stroke="#ff8f8f" stroke-width="1.0"/>
<line x1="441.2" y1="410" x2="445.8" y2="410" stroke="#ff8f8f" stroke-width="1.0"/>
<circle cx="443.5" cy="400.8" r="1.4" fill="#ff4545"/>
<line x1="454.1" y1="389.7" x2="458.5" y2="389.7" stroke="#8f8fff" stroke-width="1"/>
<circle cx="456.3" cy="389.7" r="1.4" fill="#4545ff"/>
<line x1="505.5" y1="322.4" x2="505.5" y2="350.2" stroke="#ff8f8f" stroke-width="1.0"/>
<line x1="503.2" y1="322.4" x2="507.8" y2="322.4" stroke="#ff8f8f" stroke-width="1.0"/>
<line x1="503.2" y1="350.2" x2="507.8" y2="350.2" stroke="#ff8f8f" stroke-width="1.0"/>
<circle cx="505.5" cy="336.2" r="1.4" fill="#ff4545"/>
<line x1="515.1" y1="398.9" x2="519.5" y2="398.9" stroke="#8f8fff" stroke-width="1"/>
<circle cx="517.3" cy="398.9" r="1.4" fill="#4545ff"/>
<line x1="566.5" y1="385.2" x2="566.5" y2="429.4" stroke="#ff8f8f" stroke-width="1.0"/>
<line x1="564.2" y1="385.2" x2="568.8" y2="385.2" stroke="#ff8f8f" stroke-width="1.0"/>
<line x1="564.2" y1="429.4" x2="568.8" y2="429.4" stroke="#ff8f8f" stroke-width="1.0"/>
<circle cx="566.5" cy="407.2" r="1.4" fill="#ff4545"/>
<line x1="576.3" y1="398.9" x2="580.7" y2="398.9" stroke="#8f8fff" stroke-width="1"/>
<circle cx="578.5" cy="398.9" r="1.4" fill="#4545ff"/>
<line x1="627.5" y1="393.3" x2="627.5" y2="427.3" stroke="#ff8f8f" stroke-width="1.0"/>
<line x1="625.2" y1="393.3" x2="629.8" y2="393.3" stroke="#ff8f8f" stroke-width="1.0"/>
<line x1="625.2" y1="427.3" x2="629.8" y2="427.3" stroke="#ff8f8f" stroke-width="1.0"/>
<circle cx="627.5" cy="410.3" r="1.4" fill="#ff4545"/>
<line x1="637.5" y1="391.7" x2="641.9" y2="391.7" stroke="#8f8fff" stroke-width="1"/>
<circle cx="639.7" cy="391.7" r="1.4" fill="#4545ff"/>
<rect x="435.6" y="312.4" width="208.6" height="124.9" fill="none" stroke="#7d7d7d" stroke-width="1"/>
<line x1="435.6" y1="436.8" x2="437.4" y2="436.8" stroke="#333" stroke-width="0.8"/>
<line x1="435.6" y1="429.05" x2="437.4" y2="429.05" stroke="#333" stroke-width="0.8"/>
<line x1="435.6" y1="421.3" x2="437.4" y2="421.3" stroke="#333" stroke-width="0.8"/>
<line x1="435.6" y1="413.55" x2="437.4" y2="413.55" stroke="#333" stroke-width="0.8"/>
<line x1="435.6" y1="405.8" x2="437.4" y2="405.8" stroke="#333" stroke-width="0.8"/>
<line x1="435.6" y1="398.05" x2="437.4" y2="398.05" stroke="#333" stroke-width="0.8"/>
<line x1="435.6" y1="390.3" x2="437.4" y2="390.3" stroke="#333" stroke-width="0.8"/>
<line x1="435.6" y1="382.55" x2="437.4" y2="382.55" stroke="#333" stroke-width="0.8"/>
<line x1="435.6" y1="374.8" x2="437.4" y2="374.8" stroke="#333" stroke-width="0.8"/>
<line x1="435.6" y1="367.05" x2="437.4" y2="367.05" stroke="#333" stroke-width="0.8"/>
<line x1="435.6" y1="359.3" x2="437.4" y2="359.3" stroke="#333" stroke-width="0.8"/>
<line x1="435.6" y1="351.55" x2="437.4" y2="351.55" stroke="#333" stroke-width="0.8"/>
<line x1="435.6" y1="343.8" x2="437.4" y2="343.8" stroke="#333" stroke-width="0.8"/>
<line x1="435.6" y1="336.05" x2="437.4" y2="336.05" stroke="#333" stroke-width="0.8"/>
<line x1="435.6" y1="328.3" x2="437.4" y2="328.3" stroke="#333" stroke-width="0.8"/>
<line x1="435.6" y1="320.55" x2="437.4" y2="320.55" stroke="#333" stroke-width="0.8"/>
<line x1="435.6" y1="312.8" x2="437.4" y2="312.8" stroke="#333" stroke-width="0.8"/>
<line x1="435.6" y1="421.3" x2="438.6" y2="421.3" stroke="#333" stroke-width="0.9"/>
<text x="415.09" y="426" font-size="10.3" textLength="18.91" lengthAdjust="spacingAndGlyphs" fill="#000000">0.02</text>
<text x="408.33" y="426" font-size="10.3" textLength="6.42" lengthAdjust="spacingAndGlyphs" fill="#000000">−</text>
<line x1="435.6" y1="390.3" x2="438.6" y2="390.3" stroke="#333" stroke-width="0.9"/>
<text x="415.09" y="395" font-size="10.3" textLength="18.71" lengthAdjust="spacingAndGlyphs" fill="#000000">0.00</text>
<line x1="435.6" y1="359.3" x2="438.6" y2="359.3" stroke="#333" stroke-width="0.9"/>
<text x="415.09" y="364" font-size="10.3" textLength="18.91" lengthAdjust="spacingAndGlyphs" fill="#000000">0.02</text>
<line x1="435.6" y1="328.3" x2="438.6" y2="328.3" stroke="#333" stroke-width="0.9"/>
<text x="415.1" y="333" font-size="10.3" textLength="18.47" lengthAdjust="spacingAndGlyphs" fill="#000000">0.04</text>
<line x1="450.4" y1="437.3" x2="450.4" y2="435" stroke="#333" stroke-width="0.9"/>
<line x1="511.47" y1="437.3" x2="511.47" y2="435" stroke="#333" stroke-width="0.9"/>
<line x1="572.54" y1="437.3" x2="572.54" y2="435" stroke="#333" stroke-width="0.9"/>
<line x1="633.61" y1="437.3" x2="633.61" y2="435" stroke="#333" stroke-width="0.9"/>
<polyline points="439.2,443.7 437.3,448.5 439.2,453.3" fill="none" stroke="#505050" stroke-width="0.6"/>
<text x="440.01" y="451.6" font-size="11.2" textLength="8.27" lengthAdjust="spacingAndGlyphs" fill="#383838">Δ</text>
<text x="449.56" y="451.6" font-size="10.8" font-style="italic" textLength="6.26" lengthAdjust="spacingAndGlyphs" fill="#383838">F</text>
<text x="455.69" y="454.8" font-size="7" font-style="italic" textLength="4.06" lengthAdjust="spacingAndGlyphs" fill="#383838">L</text>
<polyline points="461,443.7 462.7,448.5 461,453.3" fill="none" stroke="#505050" stroke-width="0.6"/>
<polyline points="497.47,443.7 495.37,448.5 497.47,453.3" fill="none" stroke="#505050" stroke-width="0.6"/>
<text x="498.38" y="451.6" font-size="11.2" textLength="8.27" lengthAdjust="spacingAndGlyphs" fill="#383838">Δ</text>
<text x="507.87" y="451.6" font-size="10.4" font-style="italic" textLength="5.57" lengthAdjust="spacingAndGlyphs" fill="#383838">A</text>
<text x="513.81" y="454.8" font-size="7.5" textLength="10.89" lengthAdjust="spacingAndGlyphs" fill="#444444">FB</text>
<polyline points="525.57,443.7 527.47,448.5 525.57,453.3" fill="none" stroke="#505050" stroke-width="0.6"/>
<polyline points="561.84,443.7 559.64,448.5 561.84,453.3" fill="none" stroke="#505050" stroke-width="0.6"/>
<text x="562.65" y="451.6" font-size="11.2" textLength="8.27" lengthAdjust="spacingAndGlyphs" fill="#383838">Δ</text>
<text x="571.9" y="451.6" font-size="10.8" font-style="italic" textLength="7.14" lengthAdjust="spacingAndGlyphs" fill="#383838">F</text>
<path d="M573.04,442.3 C574.49,440.9 575.94,442.9 578.84,441.4" fill="none" stroke="#3a3a3a" stroke-width="0.7"/>
<text x="578.13" y="454.8" font-size="7" font-style="italic" textLength="4.38" lengthAdjust="spacingAndGlyphs" fill="#383838">L</text>
<polyline points="583.64,443.7 585.64,448.5 583.64,453.3" fill="none" stroke="#505050" stroke-width="0.6"/>
<polyline points="623.41,443.7 621.41,448.5 623.41,453.3" fill="none" stroke="#505050" stroke-width="0.6"/>
<text x="624.44" y="451.6" font-size="11.2" textLength="7.93" lengthAdjust="spacingAndGlyphs" fill="#383838">Δ</text>
<text x="632.97" y="451.6" font-size="10.5" font-style="italic" textLength="6.14" lengthAdjust="spacingAndGlyphs" fill="#383838">S</text>
<text x="638.53" y="455" font-size="7.5" textLength="3.99" lengthAdjust="spacingAndGlyphs" fill="#444444">3</text>
<polyline points="644.01,443.7 645.71,448.5 644.01,453.3" fill="none" stroke="#505050" stroke-width="0.6"/>
</svg>
</body></html>
